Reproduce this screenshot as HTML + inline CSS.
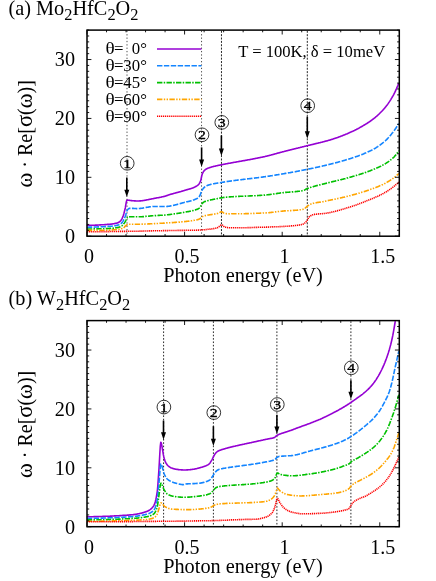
<!DOCTYPE html>
<html>
<head>
<meta charset="utf-8">
<title>Optical conductivity</title>
<style>
html, body { margin: 0; padding: 0; background: #ffffff; }
body { width: 436px; height: 581px; overflow: hidden; font-family: "Liberation Serif", serif; }
svg { display: block; will-change: transform; opacity: 0.999; }
svg text { font-family: "Liberation Serif", serif; fill: #000; }
</style>
</head>
<body>
<svg width="436" height="581" viewBox="0 0 436 581">
<rect x="0" y="0" width="436" height="581" fill="#ffffff"/>
<line x1="127.00" y1="30.8" x2="127.00" y2="236.2" stroke="#000" stroke-width="1" stroke-dasharray="1.3 2.06" opacity="0.7"/>
<line x1="201.55" y1="30.8" x2="201.55" y2="236.2" stroke="#000" stroke-width="1" stroke-dasharray="1.3 2.06" opacity="0.7"/>
<line x1="221.46" y1="30.8" x2="221.46" y2="236.2" stroke="#000" stroke-width="1" stroke-dasharray="2 1.36" opacity="0.85"/>
<line x1="307.30" y1="30.8" x2="307.30" y2="236.2" stroke="#000" stroke-width="1" stroke-dasharray="2 1.36" opacity="0.85"/>
<path d="M86.8,225.3 L87.3,225.3 L87.8,225.3 L88.3,225.3 L88.8,225.3 L89.3,225.3 L89.8,225.3 L90.3,225.3 L90.8,225.3 L91.3,225.3 L91.8,225.3 L92.3,225.2 L92.8,225.2 L93.3,225.2 L93.8,225.2 L94.3,225.2 L94.8,225.2 L95.3,225.1 L95.8,225.1 L96.3,225.1 L96.8,225.1 L97.3,225.1 L97.8,225.0 L98.3,225.0 L98.8,225.0 L99.3,225.0 L99.8,224.9 L100.3,224.9 L100.8,224.9 L101.3,224.8 L101.8,224.8 L102.3,224.8 L102.8,224.8 L103.3,224.7 L103.8,224.7 L104.3,224.7 L104.8,224.6 L105.3,224.6 L105.8,224.6 L106.3,224.5 L106.8,224.5 L107.3,224.4 L107.8,224.4 L108.3,224.4 L108.8,224.3 L109.3,224.3 L109.8,224.2 L110.3,224.2 L110.8,224.1 L111.3,224.1 L111.8,224.0 L112.3,224.0 L112.8,223.9 L113.3,223.8 L113.8,223.7 L114.3,223.6 L114.8,223.5 L115.3,223.4 L115.8,223.3 L116.3,223.2 L116.8,223.1 L117.3,223.0 L117.8,222.8 L118.3,222.6 L118.8,222.3 L119.3,222.0 L119.8,221.6 L120.3,221.2 L120.8,220.7 L121.3,219.9 L121.8,219.1 L122.3,218.0 L122.8,216.9 L123.3,215.5 L123.8,213.9 L124.3,212.0 L124.8,210.0 L125.3,207.9 L125.8,204.9 L126.3,201.9 L126.8,200.2 L127.3,200.1 L127.8,200.1 L128.3,200.2 L128.8,200.3 L129.3,200.3 L129.8,200.4 L130.3,200.5 L130.8,200.5 L131.3,200.6 L131.8,200.6 L132.3,200.7 L132.8,200.7 L133.3,200.8 L133.8,200.8 L134.3,200.9 L134.8,200.9 L135.3,200.9 L135.8,201.0 L136.3,201.0 L136.8,201.0 L137.3,201.0 L137.8,201.0 L138.3,201.0 L138.8,201.0 L139.3,201.0 L139.8,200.9 L140.3,200.9 L140.8,200.9 L141.3,200.8 L141.8,200.7 L142.3,200.7 L142.8,200.6 L143.3,200.5 L143.8,200.5 L144.3,200.4 L144.8,200.3 L145.3,200.2 L145.8,200.1 L146.3,200.0 L146.8,199.9 L147.3,199.8 L147.8,199.7 L148.3,199.6 L148.8,199.5 L149.3,199.4 L149.8,199.3 L150.3,199.2 L150.8,199.1 L151.3,199.0 L151.8,198.9 L152.3,198.8 L152.8,198.7 L153.3,198.6 L153.8,198.5 L154.3,198.4 L154.8,198.3 L155.3,198.2 L155.8,198.1 L156.3,198.0 L156.8,197.9 L157.3,197.8 L157.8,197.8 L158.3,197.7 L158.8,197.6 L159.3,197.5 L159.8,197.4 L160.3,197.3 L160.8,197.2 L161.3,197.1 L161.8,196.9 L162.3,196.8 L162.8,196.7 L163.3,196.6 L163.8,196.5 L164.3,196.4 L164.8,196.2 L165.3,196.1 L165.8,196.0 L166.3,195.8 L166.8,195.6 L167.3,195.5 L167.8,195.3 L168.3,195.1 L168.8,194.9 L169.3,194.8 L169.8,194.6 L170.3,194.4 L170.8,194.3 L171.3,194.1 L171.8,194.0 L172.3,193.9 L172.8,193.7 L173.3,193.6 L173.8,193.4 L174.3,193.3 L174.8,193.2 L175.3,193.0 L175.8,192.9 L176.3,192.8 L176.8,192.6 L177.3,192.5 L177.8,192.4 L178.3,192.3 L178.8,192.1 L179.3,192.0 L179.8,191.8 L180.3,191.7 L180.8,191.6 L181.3,191.4 L181.8,191.3 L182.3,191.1 L182.8,191.0 L183.3,190.8 L183.8,190.7 L184.3,190.5 L184.8,190.3 L185.3,190.2 L185.8,190.0 L186.3,189.9 L186.8,189.8 L187.3,189.6 L187.8,189.5 L188.3,189.3 L188.8,189.2 L189.3,189.0 L189.8,188.9 L190.3,188.7 L190.8,188.6 L191.3,188.4 L191.8,188.2 L192.3,188.1 L192.8,187.9 L193.3,187.7 L193.8,187.5 L194.3,187.2 L194.8,187.0 L195.3,186.8 L195.8,186.5 L196.3,186.2 L196.8,185.9 L197.3,185.6 L197.8,185.2 L198.3,184.8 L198.8,184.2 L199.3,183.5 L199.8,182.7 L200.3,181.7 L200.8,180.4 L201.3,178.0 L201.8,175.5 L202.3,173.9 L202.8,172.8 L203.3,171.9 L203.8,171.1 L204.3,170.6 L204.8,170.1 L205.3,169.7 L205.8,169.3 L206.3,169.0 L206.8,168.7 L207.3,168.5 L207.8,168.3 L208.3,168.1 L208.8,167.9 L209.3,167.7 L209.8,167.5 L210.3,167.4 L210.8,167.2 L211.3,167.1 L211.8,166.9 L212.3,166.8 L212.8,166.7 L213.3,166.5 L213.8,166.4 L214.3,166.3 L214.8,166.2 L215.3,166.1 L215.8,166.0 L216.3,165.8 L216.8,165.7 L217.3,165.6 L217.8,165.5 L218.3,165.4 L218.8,165.3 L219.3,165.2 L219.8,165.1 L220.3,165.0 L220.8,164.9 L221.3,164.8 L221.8,164.7 L222.3,164.6 L222.8,164.5 L223.3,164.4 L223.8,164.3 L224.3,164.2 L224.8,164.1 L225.3,164.0 L225.8,163.9 L226.3,163.8 L226.8,163.7 L227.3,163.6 L227.8,163.5 L228.3,163.4 L228.8,163.3 L229.3,163.3 L229.8,163.2 L230.3,163.1 L230.8,163.0 L231.3,162.9 L231.8,162.8 L232.3,162.7 L232.8,162.6 L233.3,162.5 L233.8,162.4 L234.3,162.3 L234.8,162.2 L235.3,162.2 L235.8,162.1 L236.3,162.0 L236.8,161.9 L237.3,161.8 L237.8,161.7 L238.3,161.6 L238.8,161.5 L239.3,161.4 L239.8,161.4 L240.3,161.3 L240.8,161.2 L241.3,161.1 L241.8,161.0 L242.3,160.9 L242.8,160.8 L243.3,160.7 L243.8,160.6 L244.3,160.6 L244.8,160.5 L245.3,160.4 L245.8,160.3 L246.3,160.2 L246.8,160.1 L247.3,160.0 L247.8,159.9 L248.3,159.8 L248.8,159.8 L249.3,159.7 L249.8,159.6 L250.3,159.5 L250.8,159.4 L251.3,159.3 L251.8,159.2 L252.3,159.1 L252.8,159.0 L253.3,158.9 L253.8,158.8 L254.3,158.7 L254.8,158.6 L255.3,158.5 L255.8,158.4 L256.3,158.3 L256.8,158.2 L257.3,158.1 L257.8,158.0 L258.3,157.9 L258.8,157.8 L259.3,157.7 L259.8,157.6 L260.3,157.5 L260.8,157.4 L261.3,157.3 L261.8,157.2 L262.3,157.1 L262.8,157.0 L263.3,156.9 L263.8,156.8 L264.3,156.7 L264.8,156.6 L265.3,156.4 L265.8,156.3 L266.3,156.2 L266.8,156.1 L267.3,156.0 L267.8,155.8 L268.3,155.7 L268.8,155.6 L269.3,155.5 L269.8,155.3 L270.3,155.2 L270.8,155.1 L271.3,154.9 L271.8,154.8 L272.3,154.7 L272.8,154.5 L273.3,154.4 L273.8,154.2 L274.3,154.1 L274.8,154.0 L275.3,153.8 L275.8,153.7 L276.3,153.6 L276.8,153.4 L277.3,153.3 L277.8,153.1 L278.3,153.0 L278.8,152.9 L279.3,152.7 L279.8,152.6 L280.3,152.5 L280.8,152.3 L281.3,152.2 L281.8,152.1 L282.3,151.9 L282.8,151.8 L283.3,151.7 L283.8,151.6 L284.3,151.4 L284.8,151.3 L285.3,151.2 L285.8,151.0 L286.3,150.9 L286.8,150.8 L287.3,150.7 L287.8,150.5 L288.3,150.4 L288.8,150.3 L289.3,150.2 L289.8,150.0 L290.3,149.9 L290.8,149.8 L291.3,149.7 L291.8,149.5 L292.3,149.4 L292.8,149.3 L293.3,149.2 L293.8,149.0 L294.3,148.9 L294.8,148.8 L295.3,148.7 L295.8,148.5 L296.3,148.4 L296.8,148.3 L297.3,148.2 L297.8,148.1 L298.3,147.9 L298.8,147.8 L299.3,147.7 L299.8,147.6 L300.3,147.4 L300.8,147.3 L301.3,147.2 L301.8,147.1 L302.3,146.9 L302.8,146.8 L303.3,146.7 L303.8,146.6 L304.3,146.4 L304.8,146.3 L305.3,146.2 L305.8,146.1 L306.3,145.9 L306.8,145.8 L307.3,145.7 L307.8,145.6 L308.3,145.4 L308.8,145.3 L309.3,145.2 L309.8,145.1 L310.3,145.0 L310.8,144.8 L311.3,144.7 L311.8,144.6 L312.3,144.5 L312.8,144.4 L313.3,144.2 L313.8,144.1 L314.3,144.0 L314.8,143.9 L315.3,143.8 L315.8,143.6 L316.3,143.5 L316.8,143.4 L317.3,143.3 L317.8,143.2 L318.3,143.0 L318.8,142.9 L319.3,142.8 L319.8,142.7 L320.3,142.6 L320.8,142.4 L321.3,142.3 L321.8,142.2 L322.3,142.1 L322.8,141.9 L323.3,141.8 L323.8,141.7 L324.3,141.5 L324.8,141.4 L325.3,141.3 L325.8,141.1 L326.3,141.0 L326.8,140.9 L327.3,140.7 L327.8,140.6 L328.3,140.4 L328.8,140.3 L329.3,140.2 L329.8,140.0 L330.3,139.9 L330.8,139.7 L331.3,139.5 L331.8,139.4 L332.3,139.2 L332.8,139.1 L333.3,138.9 L333.8,138.8 L334.3,138.6 L334.8,138.4 L335.3,138.3 L335.8,138.1 L336.3,137.9 L336.8,137.7 L337.3,137.6 L337.8,137.4 L338.3,137.2 L338.8,137.0 L339.3,136.8 L339.8,136.7 L340.3,136.5 L340.8,136.3 L341.3,136.1 L341.8,135.9 L342.3,135.7 L342.8,135.5 L343.3,135.3 L343.8,135.1 L344.3,134.9 L344.8,134.7 L345.3,134.5 L345.8,134.3 L346.3,134.1 L346.8,133.9 L347.3,133.7 L347.8,133.4 L348.3,133.2 L348.8,133.0 L349.3,132.8 L349.8,132.6 L350.3,132.3 L350.8,132.1 L351.3,131.9 L351.8,131.6 L352.3,131.4 L352.8,131.2 L353.3,130.9 L353.8,130.7 L354.3,130.5 L354.8,130.2 L355.3,130.0 L355.8,129.7 L356.3,129.5 L356.8,129.2 L357.3,128.9 L357.8,128.7 L358.3,128.4 L358.8,128.2 L359.3,127.9 L359.8,127.6 L360.3,127.3 L360.8,127.1 L361.3,126.8 L361.8,126.5 L362.3,126.2 L362.8,125.9 L363.3,125.6 L363.8,125.3 L364.3,125.0 L364.8,124.7 L365.3,124.4 L365.8,124.1 L366.3,123.8 L366.8,123.5 L367.3,123.2 L367.8,122.8 L368.3,122.5 L368.8,122.2 L369.3,121.8 L369.8,121.5 L370.3,121.2 L370.8,120.8 L371.3,120.5 L371.8,120.1 L372.3,119.7 L372.8,119.3 L373.3,119.0 L373.8,118.6 L374.3,118.2 L374.8,117.8 L375.3,117.4 L375.8,116.9 L376.3,116.5 L376.8,116.1 L377.3,115.6 L377.8,115.2 L378.3,114.7 L378.8,114.2 L379.3,113.8 L379.8,113.3 L380.3,112.8 L380.8,112.3 L381.3,111.8 L381.8,111.3 L382.3,110.7 L382.8,110.2 L383.3,109.6 L383.8,109.1 L384.3,108.5 L384.8,107.9 L385.3,107.3 L385.8,106.7 L386.3,106.1 L386.8,105.4 L387.3,104.8 L387.8,104.1 L388.3,103.4 L388.8,102.6 L389.3,101.9 L389.8,101.1 L390.3,100.4 L390.8,99.6 L391.3,98.7 L391.8,97.9 L392.3,97.0 L392.8,96.2 L393.3,95.3 L393.8,94.4 L394.3,93.4 L394.8,92.4 L395.3,91.3 L395.8,90.2 L396.3,89.1 L396.8,87.9 L397.3,86.7 L397.8,85.5 L398.3,84.2 L398.8,83.0" fill="none" stroke="#9400d3" stroke-width="1.6" stroke-linejoin="round"/>
<path d="M86.8,227.2 L87.3,227.2 L87.8,227.2 L88.3,227.2 L88.8,227.1 L89.3,227.1 L89.8,227.1 L90.3,227.1 L90.8,227.1 L91.3,227.1 L91.8,227.1 L92.3,227.1 L92.8,227.1 L93.3,227.1 L93.8,227.1 L94.3,227.1 L94.8,227.0 L95.3,227.0 L95.8,227.0 L96.3,227.0 L96.8,227.0 L97.3,227.0 L97.8,226.9 L98.3,226.9 L98.8,226.9 L99.3,226.9 L99.8,226.9 L100.3,226.8 L100.8,226.8 L101.3,226.8 L101.8,226.8 L102.3,226.8 L102.8,226.7 L103.3,226.7 L103.8,226.7 L104.3,226.7 L104.8,226.6 L105.3,226.6 L105.8,226.6 L106.3,226.6 L106.8,226.5 L107.3,226.5 L107.8,226.5 L108.3,226.4 L108.8,226.4 L109.3,226.4 L109.8,226.3 L110.3,226.3 L110.8,226.3 L111.3,226.2 L111.8,226.2 L112.3,226.1 L112.8,226.0 L113.3,226.0 L113.8,225.9 L114.3,225.8 L114.8,225.7 L115.3,225.7 L115.8,225.6 L116.3,225.5 L116.8,225.4 L117.3,225.3 L117.8,225.1 L118.3,225.0 L118.8,224.8 L119.3,224.5 L119.8,224.3 L120.3,224.0 L120.8,223.7 L121.3,223.3 L121.8,222.9 L122.3,222.3 L122.8,221.6 L123.3,220.7 L123.8,219.7 L124.3,218.7 L124.8,217.5 L125.3,216.3 L125.8,214.7 L126.3,212.9 L126.8,211.2 L127.3,210.1 L127.8,209.5 L128.3,209.0 L128.8,208.6 L129.3,208.4 L129.8,208.3 L130.3,208.4 L130.8,208.4 L131.3,208.4 L131.8,208.4 L132.3,208.4 L132.8,208.4 L133.3,208.4 L133.8,208.5 L134.3,208.5 L134.8,208.5 L135.3,208.5 L135.8,208.5 L136.3,208.6 L136.8,208.6 L137.3,208.6 L137.8,208.6 L138.3,208.6 L138.8,208.6 L139.3,208.5 L139.8,208.5 L140.3,208.4 L140.8,208.4 L141.3,208.3 L141.8,208.2 L142.3,208.2 L142.8,208.1 L143.3,208.0 L143.8,207.9 L144.3,207.8 L144.8,207.7 L145.3,207.6 L145.8,207.5 L146.3,207.4 L146.8,207.3 L147.3,207.2 L147.8,207.2 L148.3,207.1 L148.8,207.0 L149.3,206.9 L149.8,206.8 L150.3,206.8 L150.8,206.7 L151.3,206.6 L151.8,206.6 L152.3,206.6 L152.8,206.5 L153.3,206.5 L153.8,206.5 L154.3,206.5 L154.8,206.5 L155.3,206.5 L155.8,206.5 L156.3,206.5 L156.8,206.5 L157.3,206.5 L157.8,206.5 L158.3,206.5 L158.8,206.5 L159.3,206.5 L159.8,206.5 L160.3,206.5 L160.8,206.5 L161.3,206.5 L161.8,206.5 L162.3,206.5 L162.8,206.5 L163.3,206.5 L163.8,206.5 L164.3,206.5 L164.8,206.5 L165.3,206.5 L165.8,206.5 L166.3,206.5 L166.8,206.5 L167.3,206.4 L167.8,206.4 L168.3,206.3 L168.8,206.3 L169.3,206.2 L169.8,206.1 L170.3,206.0 L170.8,205.9 L171.3,205.8 L171.8,205.7 L172.3,205.6 L172.8,205.5 L173.3,205.4 L173.8,205.3 L174.3,205.2 L174.8,205.0 L175.3,204.9 L175.8,204.8 L176.3,204.7 L176.8,204.5 L177.3,204.4 L177.8,204.2 L178.3,204.1 L178.8,204.0 L179.3,203.8 L179.8,203.7 L180.3,203.5 L180.8,203.4 L181.3,203.2 L181.8,203.1 L182.3,203.0 L182.8,202.8 L183.3,202.7 L183.8,202.6 L184.3,202.4 L184.8,202.3 L185.3,202.2 L185.8,202.1 L186.3,201.9 L186.8,201.8 L187.3,201.7 L187.8,201.6 L188.3,201.5 L188.8,201.4 L189.3,201.2 L189.8,201.1 L190.3,201.0 L190.8,200.9 L191.3,200.7 L191.8,200.6 L192.3,200.4 L192.8,200.3 L193.3,200.1 L193.8,199.9 L194.3,199.7 L194.8,199.5 L195.3,199.3 L195.8,199.1 L196.3,198.9 L196.8,198.6 L197.3,198.4 L197.8,198.0 L198.3,197.6 L198.8,197.1 L199.3,196.5 L199.8,195.8 L200.3,194.7 L200.8,193.2 L201.3,191.8 L201.8,190.7 L202.3,189.8 L202.8,189.1 L203.3,188.4 L203.8,187.9 L204.3,187.4 L204.8,186.9 L205.3,186.5 L205.8,186.1 L206.3,185.9 L206.8,185.7 L207.3,185.5 L207.8,185.3 L208.3,185.1 L208.8,185.0 L209.3,184.8 L209.8,184.7 L210.3,184.5 L210.8,184.4 L211.3,184.3 L211.8,184.2 L212.3,184.0 L212.8,183.9 L213.3,183.8 L213.8,183.7 L214.3,183.6 L214.8,183.5 L215.3,183.5 L215.8,183.4 L216.3,183.3 L216.8,183.2 L217.3,183.1 L217.8,183.0 L218.3,183.0 L218.8,182.9 L219.3,182.8 L219.8,182.7 L220.3,182.7 L220.8,182.6 L221.3,182.5 L221.8,182.4 L222.3,182.3 L222.8,182.2 L223.3,182.1 L223.8,182.1 L224.3,182.0 L224.8,181.9 L225.3,181.8 L225.8,181.7 L226.3,181.7 L226.8,181.6 L227.3,181.5 L227.8,181.4 L228.3,181.4 L228.8,181.3 L229.3,181.2 L229.8,181.1 L230.3,181.1 L230.8,181.0 L231.3,180.9 L231.8,180.9 L232.3,180.8 L232.8,180.7 L233.3,180.7 L233.8,180.6 L234.3,180.5 L234.8,180.5 L235.3,180.4 L235.8,180.3 L236.3,180.3 L236.8,180.2 L237.3,180.1 L237.8,180.1 L238.3,180.0 L238.8,180.0 L239.3,179.9 L239.8,179.8 L240.3,179.8 L240.8,179.7 L241.3,179.7 L241.8,179.6 L242.3,179.5 L242.8,179.5 L243.3,179.4 L243.8,179.4 L244.3,179.3 L244.8,179.2 L245.3,179.2 L245.8,179.1 L246.3,179.1 L246.8,179.0 L247.3,178.9 L247.8,178.9 L248.3,178.8 L248.8,178.8 L249.3,178.7 L249.8,178.6 L250.3,178.6 L250.8,178.5 L251.3,178.5 L251.8,178.4 L252.3,178.4 L252.8,178.3 L253.3,178.2 L253.8,178.2 L254.3,178.1 L254.8,178.0 L255.3,178.0 L255.8,177.9 L256.3,177.9 L256.8,177.8 L257.3,177.7 L257.8,177.7 L258.3,177.6 L258.8,177.5 L259.3,177.5 L259.8,177.4 L260.3,177.3 L260.8,177.3 L261.3,177.2 L261.8,177.1 L262.3,177.1 L262.8,177.0 L263.3,176.9 L263.8,176.9 L264.3,176.8 L264.8,176.7 L265.3,176.6 L265.8,176.6 L266.3,176.5 L266.8,176.4 L267.3,176.4 L267.8,176.3 L268.3,176.2 L268.8,176.1 L269.3,176.1 L269.8,176.0 L270.3,175.9 L270.8,175.8 L271.3,175.7 L271.8,175.7 L272.3,175.6 L272.8,175.5 L273.3,175.4 L273.8,175.4 L274.3,175.3 L274.8,175.2 L275.3,175.1 L275.8,175.0 L276.3,174.9 L276.8,174.9 L277.3,174.8 L277.8,174.7 L278.3,174.6 L278.8,174.5 L279.3,174.5 L279.8,174.4 L280.3,174.3 L280.8,174.2 L281.3,174.1 L281.8,174.0 L282.3,174.0 L282.8,173.9 L283.3,173.8 L283.8,173.7 L284.3,173.6 L284.8,173.5 L285.3,173.4 L285.8,173.4 L286.3,173.3 L286.8,173.2 L287.3,173.1 L287.8,173.0 L288.3,172.9 L288.8,172.8 L289.3,172.7 L289.8,172.7 L290.3,172.6 L290.8,172.5 L291.3,172.4 L291.8,172.3 L292.3,172.2 L292.8,172.1 L293.3,172.0 L293.8,171.9 L294.3,171.8 L294.8,171.8 L295.3,171.7 L295.8,171.6 L296.3,171.5 L296.8,171.4 L297.3,171.3 L297.8,171.2 L298.3,171.1 L298.8,171.0 L299.3,170.9 L299.8,170.8 L300.3,170.7 L300.8,170.6 L301.3,170.5 L301.8,170.4 L302.3,170.3 L302.8,170.2 L303.3,170.1 L303.8,170.0 L304.3,169.9 L304.8,169.8 L305.3,169.7 L305.8,169.6 L306.3,169.5 L306.8,169.4 L307.3,169.3 L307.8,169.2 L308.3,169.1 L308.8,169.0 L309.3,168.9 L309.8,168.8 L310.3,168.7 L310.8,168.6 L311.3,168.5 L311.8,168.4 L312.3,168.3 L312.8,168.2 L313.3,168.1 L313.8,167.9 L314.3,167.8 L314.8,167.7 L315.3,167.6 L315.8,167.5 L316.3,167.4 L316.8,167.3 L317.3,167.2 L317.8,167.1 L318.3,167.0 L318.8,166.9 L319.3,166.7 L319.8,166.6 L320.3,166.5 L320.8,166.4 L321.3,166.3 L321.8,166.2 L322.3,166.1 L322.8,165.9 L323.3,165.8 L323.8,165.7 L324.3,165.6 L324.8,165.5 L325.3,165.4 L325.8,165.2 L326.3,165.1 L326.8,165.0 L327.3,164.9 L327.8,164.8 L328.3,164.6 L328.8,164.5 L329.3,164.4 L329.8,164.3 L330.3,164.2 L330.8,164.0 L331.3,163.9 L331.8,163.8 L332.3,163.7 L332.8,163.5 L333.3,163.4 L333.8,163.3 L334.3,163.1 L334.8,163.0 L335.3,162.9 L335.8,162.8 L336.3,162.6 L336.8,162.5 L337.3,162.4 L337.8,162.2 L338.3,162.1 L338.8,161.9 L339.3,161.8 L339.8,161.7 L340.3,161.5 L340.8,161.4 L341.3,161.2 L341.8,161.1 L342.3,161.0 L342.8,160.8 L343.3,160.7 L343.8,160.5 L344.3,160.4 L344.8,160.2 L345.3,160.1 L345.8,159.9 L346.3,159.8 L346.8,159.6 L347.3,159.5 L347.8,159.3 L348.3,159.2 L348.8,159.0 L349.3,158.9 L349.8,158.7 L350.3,158.6 L350.8,158.4 L351.3,158.2 L351.8,158.1 L352.3,157.9 L352.8,157.8 L353.3,157.6 L353.8,157.4 L354.3,157.3 L354.8,157.1 L355.3,156.9 L355.8,156.8 L356.3,156.6 L356.8,156.4 L357.3,156.2 L357.8,156.1 L358.3,155.9 L358.8,155.7 L359.3,155.5 L359.8,155.3 L360.3,155.1 L360.8,154.9 L361.3,154.8 L361.8,154.6 L362.3,154.4 L362.8,154.2 L363.3,154.0 L363.8,153.8 L364.3,153.5 L364.8,153.3 L365.3,153.1 L365.8,152.9 L366.3,152.7 L366.8,152.5 L367.3,152.3 L367.8,152.0 L368.3,151.8 L368.8,151.6 L369.3,151.3 L369.8,151.1 L370.3,150.9 L370.8,150.6 L371.3,150.4 L371.8,150.1 L372.3,149.9 L372.8,149.6 L373.3,149.3 L373.8,149.0 L374.3,148.7 L374.8,148.5 L375.3,148.2 L375.8,147.9 L376.3,147.5 L376.8,147.2 L377.3,146.9 L377.8,146.6 L378.3,146.2 L378.8,145.9 L379.3,145.5 L379.8,145.2 L380.3,144.8 L380.8,144.5 L381.3,144.1 L381.8,143.7 L382.3,143.3 L382.8,142.9 L383.3,142.5 L383.8,142.1 L384.3,141.7 L384.8,141.2 L385.3,140.8 L385.8,140.3 L386.3,139.9 L386.8,139.4 L387.3,138.9 L387.8,138.3 L388.3,137.8 L388.8,137.2 L389.3,136.6 L389.8,136.1 L390.3,135.5 L390.8,134.9 L391.3,134.3 L391.8,133.6 L392.3,133.0 L392.8,132.4 L393.3,131.7 L393.8,131.1 L394.3,130.4 L394.8,129.7 L395.3,129.0 L395.8,128.3 L396.3,127.5 L396.8,126.8 L397.3,126.0 L397.8,125.2 L398.3,124.4 L398.8,123.6" fill="none" stroke="#1485ff" stroke-width="1.6" stroke-dasharray="5.4 1.5" stroke-linejoin="round"/>
<path d="M86.8,229.0 L87.3,229.0 L87.8,229.0 L88.3,229.0 L88.8,229.0 L89.3,229.0 L89.8,229.0 L90.3,229.0 L90.8,229.0 L91.3,229.0 L91.8,229.0 L92.3,229.0 L92.8,228.9 L93.3,228.9 L93.8,228.9 L94.3,228.9 L94.8,228.9 L95.3,228.9 L95.8,228.9 L96.3,228.9 L96.8,228.9 L97.3,228.9 L97.8,228.9 L98.3,228.8 L98.8,228.8 L99.3,228.8 L99.8,228.8 L100.3,228.8 L100.8,228.8 L101.3,228.8 L101.8,228.7 L102.3,228.7 L102.8,228.7 L103.3,228.7 L103.8,228.7 L104.3,228.7 L104.8,228.6 L105.3,228.6 L105.8,228.6 L106.3,228.6 L106.8,228.6 L107.3,228.6 L107.8,228.5 L108.3,228.5 L108.8,228.5 L109.3,228.5 L109.8,228.4 L110.3,228.4 L110.8,228.4 L111.3,228.3 L111.8,228.3 L112.3,228.2 L112.8,228.2 L113.3,228.1 L113.8,228.1 L114.3,228.0 L114.8,228.0 L115.3,227.9 L115.8,227.8 L116.3,227.7 L116.8,227.7 L117.3,227.6 L117.8,227.5 L118.3,227.4 L118.8,227.2 L119.3,227.1 L119.8,226.9 L120.3,226.7 L120.8,226.5 L121.3,226.2 L121.8,225.9 L122.3,225.5 L122.8,225.0 L123.3,224.5 L123.8,223.8 L124.3,223.1 L124.8,222.3 L125.3,221.6 L125.8,220.5 L126.3,219.3 L126.8,218.3 L127.3,217.6 L127.8,217.3 L128.3,217.1 L128.8,217.0 L129.3,216.9 L129.8,216.8 L130.3,216.8 L130.8,216.8 L131.3,216.8 L131.8,216.8 L132.3,216.8 L132.8,216.8 L133.3,216.8 L133.8,216.8 L134.3,216.8 L134.8,216.8 L135.3,216.8 L135.8,216.8 L136.3,216.8 L136.8,216.8 L137.3,216.8 L137.8,216.8 L138.3,216.8 L138.8,216.8 L139.3,216.8 L139.8,216.8 L140.3,216.8 L140.8,216.8 L141.3,216.7 L141.8,216.7 L142.3,216.7 L142.8,216.6 L143.3,216.6 L143.8,216.6 L144.3,216.5 L144.8,216.5 L145.3,216.4 L145.8,216.4 L146.3,216.3 L146.8,216.3 L147.3,216.2 L147.8,216.2 L148.3,216.2 L148.8,216.1 L149.3,216.1 L149.8,216.0 L150.3,216.0 L150.8,215.9 L151.3,215.9 L151.8,215.8 L152.3,215.8 L152.8,215.8 L153.3,215.7 L153.8,215.7 L154.3,215.7 L154.8,215.6 L155.3,215.6 L155.8,215.6 L156.3,215.5 L156.8,215.5 L157.3,215.5 L157.8,215.5 L158.3,215.4 L158.8,215.4 L159.3,215.4 L159.8,215.3 L160.3,215.3 L160.8,215.3 L161.3,215.3 L161.8,215.2 L162.3,215.2 L162.8,215.2 L163.3,215.1 L163.8,215.1 L164.3,215.1 L164.8,215.0 L165.3,215.0 L165.8,214.9 L166.3,214.9 L166.8,214.8 L167.3,214.8 L167.8,214.7 L168.3,214.7 L168.8,214.6 L169.3,214.6 L169.8,214.5 L170.3,214.5 L170.8,214.4 L171.3,214.3 L171.8,214.3 L172.3,214.2 L172.8,214.1 L173.3,214.1 L173.8,214.0 L174.3,213.9 L174.8,213.8 L175.3,213.8 L175.8,213.7 L176.3,213.6 L176.8,213.5 L177.3,213.5 L177.8,213.4 L178.3,213.3 L178.8,213.2 L179.3,213.1 L179.8,213.1 L180.3,213.0 L180.8,212.9 L181.3,212.8 L181.8,212.7 L182.3,212.6 L182.8,212.5 L183.3,212.5 L183.8,212.4 L184.3,212.3 L184.8,212.2 L185.3,212.1 L185.8,212.0 L186.3,211.9 L186.8,211.8 L187.3,211.7 L187.8,211.6 L188.3,211.6 L188.8,211.5 L189.3,211.4 L189.8,211.3 L190.3,211.2 L190.8,211.0 L191.3,210.9 L191.8,210.8 L192.3,210.7 L192.8,210.6 L193.3,210.5 L193.8,210.3 L194.3,210.2 L194.8,210.0 L195.3,209.9 L195.8,209.7 L196.3,209.5 L196.8,209.4 L197.3,209.2 L197.8,209.0 L198.3,208.7 L198.8,208.4 L199.3,208.1 L199.8,207.7 L200.3,207.0 L200.8,205.9 L201.3,204.8 L201.8,204.0 L202.3,203.4 L202.8,202.9 L203.3,202.4 L203.8,202.0 L204.3,201.8 L204.8,201.5 L205.3,201.4 L205.8,201.2 L206.3,201.1 L206.8,200.9 L207.3,200.8 L207.8,200.7 L208.3,200.5 L208.8,200.4 L209.3,200.3 L209.8,200.2 L210.3,200.0 L210.8,199.9 L211.3,199.8 L211.8,199.7 L212.3,199.6 L212.8,199.5 L213.3,199.4 L213.8,199.3 L214.3,199.2 L214.8,199.1 L215.3,199.0 L215.8,198.9 L216.3,198.8 L216.8,198.7 L217.3,198.6 L217.8,198.5 L218.3,198.4 L218.8,198.3 L219.3,198.2 L219.8,198.1 L220.3,198.0 L220.8,197.9 L221.3,197.9 L221.8,197.8 L222.3,197.7 L222.8,197.6 L223.3,197.5 L223.8,197.4 L224.3,197.4 L224.8,197.3 L225.3,197.3 L225.8,197.2 L226.3,197.2 L226.8,197.1 L227.3,197.1 L227.8,197.1 L228.3,197.0 L228.8,197.0 L229.3,196.9 L229.8,196.9 L230.3,196.9 L230.8,196.8 L231.3,196.8 L231.8,196.8 L232.3,196.7 L232.8,196.7 L233.3,196.7 L233.8,196.6 L234.3,196.6 L234.8,196.6 L235.3,196.6 L235.8,196.5 L236.3,196.5 L236.8,196.5 L237.3,196.5 L237.8,196.4 L238.3,196.4 L238.8,196.4 L239.3,196.4 L239.8,196.3 L240.3,196.3 L240.8,196.3 L241.3,196.3 L241.8,196.3 L242.3,196.2 L242.8,196.2 L243.3,196.2 L243.8,196.2 L244.3,196.2 L244.8,196.1 L245.3,196.1 L245.8,196.1 L246.3,196.1 L246.8,196.1 L247.3,196.0 L247.8,196.0 L248.3,196.0 L248.8,196.0 L249.3,196.0 L249.8,195.9 L250.3,195.9 L250.8,195.9 L251.3,195.9 L251.8,195.8 L252.3,195.8 L252.8,195.8 L253.3,195.8 L253.8,195.8 L254.3,195.7 L254.8,195.7 L255.3,195.7 L255.8,195.7 L256.3,195.6 L256.8,195.6 L257.3,195.6 L257.8,195.5 L258.3,195.5 L258.8,195.5 L259.3,195.5 L259.8,195.4 L260.3,195.4 L260.8,195.4 L261.3,195.3 L261.8,195.3 L262.3,195.3 L262.8,195.2 L263.3,195.2 L263.8,195.1 L264.3,195.1 L264.8,195.1 L265.3,195.0 L265.8,195.0 L266.3,194.9 L266.8,194.9 L267.3,194.8 L267.8,194.8 L268.3,194.7 L268.8,194.6 L269.3,194.6 L269.8,194.5 L270.3,194.5 L270.8,194.4 L271.3,194.3 L271.8,194.2 L272.3,194.2 L272.8,194.1 L273.3,194.0 L273.8,194.0 L274.3,193.9 L274.8,193.8 L275.3,193.7 L275.8,193.7 L276.3,193.6 L276.8,193.5 L277.3,193.4 L277.8,193.4 L278.3,193.3 L278.8,193.2 L279.3,193.2 L279.8,193.1 L280.3,193.0 L280.8,192.9 L281.3,192.9 L281.8,192.8 L282.3,192.8 L282.8,192.7 L283.3,192.6 L283.8,192.6 L284.3,192.5 L284.8,192.5 L285.3,192.4 L285.8,192.4 L286.3,192.4 L286.8,192.3 L287.3,192.3 L287.8,192.2 L288.3,192.2 L288.8,192.2 L289.3,192.1 L289.8,192.1 L290.3,192.0 L290.8,192.0 L291.3,192.0 L291.8,191.9 L292.3,191.9 L292.8,191.9 L293.3,191.8 L293.8,191.8 L294.3,191.7 L294.8,191.7 L295.3,191.6 L295.8,191.6 L296.3,191.5 L296.8,191.5 L297.3,191.4 L297.8,191.4 L298.3,191.3 L298.8,191.2 L299.3,191.2 L299.8,191.1 L300.3,191.0 L300.8,190.9 L301.3,190.9 L301.8,190.8 L302.3,190.7 L302.8,190.6 L303.3,190.5 L303.8,190.4 L304.3,190.2 L304.8,189.9 L305.3,189.6 L305.8,189.3 L306.3,189.0 L306.8,188.8 L307.3,188.6 L307.8,188.4 L308.3,188.2 L308.8,188.0 L309.3,187.8 L309.8,187.6 L310.3,187.5 L310.8,187.3 L311.3,187.2 L311.8,187.0 L312.3,186.9 L312.8,186.7 L313.3,186.6 L313.8,186.5 L314.3,186.3 L314.8,186.2 L315.3,186.0 L315.8,185.9 L316.3,185.8 L316.8,185.6 L317.3,185.5 L317.8,185.4 L318.3,185.3 L318.8,185.1 L319.3,185.0 L319.8,184.9 L320.3,184.8 L320.8,184.6 L321.3,184.5 L321.8,184.4 L322.3,184.3 L322.8,184.1 L323.3,184.0 L323.8,183.9 L324.3,183.7 L324.8,183.6 L325.3,183.5 L325.8,183.4 L326.3,183.2 L326.8,183.1 L327.3,183.0 L327.8,182.9 L328.3,182.7 L328.8,182.6 L329.3,182.5 L329.8,182.4 L330.3,182.2 L330.8,182.1 L331.3,182.0 L331.8,181.9 L332.3,181.8 L332.8,181.6 L333.3,181.5 L333.8,181.4 L334.3,181.3 L334.8,181.2 L335.3,181.0 L335.8,180.9 L336.3,180.8 L336.8,180.7 L337.3,180.6 L337.8,180.4 L338.3,180.3 L338.8,180.2 L339.3,180.1 L339.8,180.0 L340.3,179.8 L340.8,179.7 L341.3,179.6 L341.8,179.5 L342.3,179.3 L342.8,179.2 L343.3,179.1 L343.8,178.9 L344.3,178.8 L344.8,178.7 L345.3,178.6 L345.8,178.4 L346.3,178.3 L346.8,178.1 L347.3,178.0 L347.8,177.9 L348.3,177.7 L348.8,177.6 L349.3,177.5 L349.8,177.3 L350.3,177.2 L350.8,177.0 L351.3,176.9 L351.8,176.7 L352.3,176.6 L352.8,176.4 L353.3,176.3 L353.8,176.2 L354.3,176.0 L354.8,175.9 L355.3,175.7 L355.8,175.6 L356.3,175.4 L356.8,175.3 L357.3,175.1 L357.8,175.0 L358.3,174.8 L358.8,174.7 L359.3,174.5 L359.8,174.3 L360.3,174.2 L360.8,174.0 L361.3,173.9 L361.8,173.7 L362.3,173.5 L362.8,173.4 L363.3,173.2 L363.8,173.0 L364.3,172.9 L364.8,172.7 L365.3,172.5 L365.8,172.4 L366.3,172.2 L366.8,172.0 L367.3,171.8 L367.8,171.6 L368.3,171.5 L368.8,171.3 L369.3,171.1 L369.8,170.9 L370.3,170.7 L370.8,170.5 L371.3,170.3 L371.8,170.1 L372.3,169.9 L372.8,169.7 L373.3,169.5 L373.8,169.3 L374.3,169.1 L374.8,168.9 L375.3,168.7 L375.8,168.5 L376.3,168.3 L376.8,168.0 L377.3,167.8 L377.8,167.6 L378.3,167.4 L378.8,167.1 L379.3,166.9 L379.8,166.6 L380.3,166.4 L380.8,166.2 L381.3,165.9 L381.8,165.6 L382.3,165.4 L382.8,165.1 L383.3,164.8 L383.8,164.5 L384.3,164.3 L384.8,164.0 L385.3,163.7 L385.8,163.4 L386.3,163.0 L386.8,162.7 L387.3,162.4 L387.8,162.1 L388.3,161.7 L388.8,161.4 L389.3,161.0 L389.8,160.6 L390.3,160.2 L390.8,159.8 L391.3,159.4 L391.8,159.0 L392.3,158.6 L392.8,158.1 L393.3,157.7 L393.8,157.2 L394.3,156.7 L394.8,156.1 L395.3,155.5 L395.8,154.9 L396.3,154.3 L396.8,153.6 L397.3,152.9 L397.8,152.2 L398.3,151.5 L398.8,150.8" fill="none" stroke="#00c000" stroke-width="1.6" stroke-dasharray="5.4 1.3 1.5 1.3" stroke-linejoin="round"/>
<path d="M86.8,230.4 L87.3,230.4 L87.8,230.4 L88.3,230.4 L88.8,230.4 L89.3,230.4 L89.8,230.4 L90.3,230.4 L90.8,230.4 L91.3,230.4 L91.8,230.4 L92.3,230.4 L92.8,230.3 L93.3,230.3 L93.8,230.3 L94.3,230.3 L94.8,230.3 L95.3,230.3 L95.8,230.3 L96.3,230.3 L96.8,230.3 L97.3,230.3 L97.8,230.3 L98.3,230.3 L98.8,230.3 L99.3,230.3 L99.8,230.3 L100.3,230.3 L100.8,230.3 L101.3,230.3 L101.8,230.2 L102.3,230.2 L102.8,230.2 L103.3,230.2 L103.8,230.2 L104.3,230.2 L104.8,230.2 L105.3,230.2 L105.8,230.2 L106.3,230.2 L106.8,230.2 L107.3,230.2 L107.8,230.1 L108.3,230.1 L108.8,230.1 L109.3,230.1 L109.8,230.1 L110.3,230.0 L110.8,230.0 L111.3,230.0 L111.8,230.0 L112.3,229.9 L112.8,229.9 L113.3,229.8 L113.8,229.8 L114.3,229.7 L114.8,229.7 L115.3,229.6 L115.8,229.6 L116.3,229.5 L116.8,229.5 L117.3,229.4 L117.8,229.4 L118.3,229.3 L118.8,229.2 L119.3,229.2 L119.8,229.1 L120.3,229.0 L120.8,228.9 L121.3,228.7 L121.8,228.6 L122.3,228.5 L122.8,228.3 L123.3,228.1 L123.8,227.7 L124.3,227.2 L124.8,226.6 L125.3,226.1 L125.8,225.7 L126.3,225.3 L126.8,225.0 L127.3,224.6 L127.8,224.4 L128.3,224.2 L128.8,224.2 L129.3,224.2 L129.8,224.2 L130.3,224.2 L130.8,224.2 L131.3,224.2 L131.8,224.2 L132.3,224.2 L132.8,224.2 L133.3,224.2 L133.8,224.2 L134.3,224.2 L134.8,224.2 L135.3,224.2 L135.8,224.2 L136.3,224.2 L136.8,224.2 L137.3,224.2 L137.8,224.2 L138.3,224.2 L138.8,224.2 L139.3,224.2 L139.8,224.2 L140.3,224.2 L140.8,224.2 L141.3,224.1 L141.8,224.1 L142.3,224.1 L142.8,224.1 L143.3,224.1 L143.8,224.1 L144.3,224.1 L144.8,224.1 L145.3,224.0 L145.8,224.0 L146.3,224.0 L146.8,224.0 L147.3,224.0 L147.8,224.0 L148.3,223.9 L148.8,223.9 L149.3,223.9 L149.8,223.9 L150.3,223.8 L150.8,223.8 L151.3,223.8 L151.8,223.8 L152.3,223.8 L152.8,223.7 L153.3,223.7 L153.8,223.7 L154.3,223.6 L154.8,223.6 L155.3,223.6 L155.8,223.6 L156.3,223.5 L156.8,223.5 L157.3,223.5 L157.8,223.5 L158.3,223.4 L158.8,223.4 L159.3,223.4 L159.8,223.3 L160.3,223.3 L160.8,223.3 L161.3,223.2 L161.8,223.2 L162.3,223.2 L162.8,223.2 L163.3,223.1 L163.8,223.1 L164.3,223.1 L164.8,223.0 L165.3,223.0 L165.8,223.0 L166.3,222.9 L166.8,222.9 L167.3,222.9 L167.8,222.9 L168.3,222.8 L168.8,222.8 L169.3,222.8 L169.8,222.7 L170.3,222.7 L170.8,222.7 L171.3,222.7 L171.8,222.6 L172.3,222.6 L172.8,222.6 L173.3,222.5 L173.8,222.5 L174.3,222.5 L174.8,222.4 L175.3,222.4 L175.8,222.4 L176.3,222.3 L176.8,222.3 L177.3,222.3 L177.8,222.2 L178.3,222.2 L178.8,222.1 L179.3,222.1 L179.8,222.1 L180.3,222.0 L180.8,222.0 L181.3,221.9 L181.8,221.9 L182.3,221.8 L182.8,221.8 L183.3,221.7 L183.8,221.7 L184.3,221.6 L184.8,221.6 L185.3,221.5 L185.8,221.5 L186.3,221.4 L186.8,221.4 L187.3,221.3 L187.8,221.2 L188.3,221.2 L188.8,221.1 L189.3,221.1 L189.8,221.0 L190.3,220.9 L190.8,220.9 L191.3,220.8 L191.8,220.7 L192.3,220.6 L192.8,220.6 L193.3,220.5 L193.8,220.4 L194.3,220.3 L194.8,220.2 L195.3,220.1 L195.8,220.1 L196.3,220.0 L196.8,219.9 L197.3,219.8 L197.8,219.6 L198.3,219.5 L198.8,219.3 L199.3,219.1 L199.8,218.8 L200.3,218.6 L200.8,218.2 L201.3,217.8 L201.8,217.2 L202.3,216.7 L202.8,216.4 L203.3,216.2 L203.8,216.0 L204.3,215.9 L204.8,215.8 L205.3,215.6 L205.8,215.5 L206.3,215.4 L206.8,215.4 L207.3,215.2 L207.8,215.1 L208.3,215.0 L208.8,215.0 L209.3,214.9 L209.8,214.8 L210.3,214.7 L210.8,214.6 L211.3,214.6 L211.8,214.5 L212.3,214.4 L212.8,214.3 L213.3,214.3 L213.8,214.2 L214.3,214.1 L214.8,214.0 L215.3,213.9 L215.8,213.8 L216.3,213.7 L216.8,213.6 L217.3,213.5 L217.8,213.4 L218.3,213.2 L218.8,212.9 L219.3,212.7 L219.8,212.4 L220.3,212.1 L220.8,211.9 L221.3,211.8 L221.8,211.8 L222.3,212.0 L222.8,212.3 L223.3,212.7 L223.8,213.0 L224.3,213.2 L224.8,213.3 L225.3,213.4 L225.8,213.5 L226.3,213.6 L226.8,213.7 L227.3,213.7 L227.8,213.8 L228.3,213.8 L228.8,213.8 L229.3,213.9 L229.8,213.9 L230.3,213.9 L230.8,213.9 L231.3,213.8 L231.8,213.8 L232.3,213.8 L232.8,213.8 L233.3,213.8 L233.8,213.8 L234.3,213.8 L234.8,213.8 L235.3,213.8 L235.8,213.8 L236.3,213.8 L236.8,213.8 L237.3,213.8 L237.8,213.8 L238.3,213.8 L238.8,213.8 L239.3,213.8 L239.8,213.8 L240.3,213.7 L240.8,213.7 L241.3,213.7 L241.8,213.7 L242.3,213.7 L242.8,213.7 L243.3,213.7 L243.8,213.7 L244.3,213.7 L244.8,213.7 L245.3,213.6 L245.8,213.6 L246.3,213.6 L246.8,213.6 L247.3,213.6 L247.8,213.6 L248.3,213.6 L248.8,213.5 L249.3,213.5 L249.8,213.5 L250.3,213.5 L250.8,213.5 L251.3,213.5 L251.8,213.5 L252.3,213.4 L252.8,213.4 L253.3,213.4 L253.8,213.4 L254.3,213.4 L254.8,213.3 L255.3,213.3 L255.8,213.3 L256.3,213.3 L256.8,213.3 L257.3,213.3 L257.8,213.2 L258.3,213.2 L258.8,213.2 L259.3,213.2 L259.8,213.2 L260.3,213.1 L260.8,213.1 L261.3,213.1 L261.8,213.1 L262.3,213.1 L262.8,213.0 L263.3,213.0 L263.8,213.0 L264.3,213.0 L264.8,212.9 L265.3,212.9 L265.8,212.9 L266.3,212.9 L266.8,212.8 L267.3,212.8 L267.8,212.8 L268.3,212.7 L268.8,212.7 L269.3,212.6 L269.8,212.6 L270.3,212.5 L270.8,212.5 L271.3,212.4 L271.8,212.4 L272.3,212.3 L272.8,212.2 L273.3,212.2 L273.8,212.1 L274.3,212.1 L274.8,212.0 L275.3,211.9 L275.8,211.9 L276.3,211.8 L276.8,211.7 L277.3,211.7 L277.8,211.6 L278.3,211.5 L278.8,211.5 L279.3,211.4 L279.8,211.4 L280.3,211.3 L280.8,211.3 L281.3,211.2 L281.8,211.2 L282.3,211.1 L282.8,211.1 L283.3,211.0 L283.8,211.0 L284.3,210.9 L284.8,210.9 L285.3,210.9 L285.8,210.8 L286.3,210.8 L286.8,210.8 L287.3,210.7 L287.8,210.7 L288.3,210.7 L288.8,210.7 L289.3,210.6 L289.8,210.6 L290.3,210.6 L290.8,210.6 L291.3,210.5 L291.8,210.5 L292.3,210.5 L292.8,210.5 L293.3,210.4 L293.8,210.4 L294.3,210.4 L294.8,210.3 L295.3,210.3 L295.8,210.3 L296.3,210.2 L296.8,210.2 L297.3,210.1 L297.8,210.1 L298.3,210.0 L298.8,210.0 L299.3,209.9 L299.8,209.8 L300.3,209.8 L300.8,209.7 L301.3,209.6 L301.8,209.6 L302.3,209.5 L302.8,209.4 L303.3,209.3 L303.8,209.2 L304.3,208.9 L304.8,208.5 L305.3,208.0 L305.8,207.5 L306.3,207.1 L306.8,206.7 L307.3,206.3 L307.8,205.9 L308.3,205.5 L308.8,205.1 L309.3,204.7 L309.8,204.5 L310.3,204.2 L310.8,204.1 L311.3,203.9 L311.8,203.7 L312.3,203.6 L312.8,203.5 L313.3,203.3 L313.8,203.2 L314.3,203.1 L314.8,203.0 L315.3,202.9 L315.8,202.8 L316.3,202.7 L316.8,202.6 L317.3,202.5 L317.8,202.4 L318.3,202.4 L318.8,202.3 L319.3,202.2 L319.8,202.1 L320.3,202.1 L320.8,202.0 L321.3,201.9 L321.8,201.8 L322.3,201.7 L322.8,201.7 L323.3,201.6 L323.8,201.5 L324.3,201.4 L324.8,201.3 L325.3,201.2 L325.8,201.1 L326.3,201.0 L326.8,200.9 L327.3,200.7 L327.8,200.6 L328.3,200.5 L328.8,200.4 L329.3,200.3 L329.8,200.2 L330.3,200.1 L330.8,200.0 L331.3,199.9 L331.8,199.8 L332.3,199.7 L332.8,199.6 L333.3,199.5 L333.8,199.4 L334.3,199.3 L334.8,199.2 L335.3,199.1 L335.8,199.0 L336.3,198.9 L336.8,198.8 L337.3,198.7 L337.8,198.5 L338.3,198.4 L338.8,198.3 L339.3,198.2 L339.8,198.1 L340.3,198.0 L340.8,197.9 L341.3,197.8 L341.8,197.7 L342.3,197.5 L342.8,197.4 L343.3,197.3 L343.8,197.2 L344.3,197.1 L344.8,197.0 L345.3,196.8 L345.8,196.7 L346.3,196.6 L346.8,196.5 L347.3,196.3 L347.8,196.2 L348.3,196.1 L348.8,196.0 L349.3,195.8 L349.8,195.7 L350.3,195.6 L350.8,195.4 L351.3,195.3 L351.8,195.2 L352.3,195.0 L352.8,194.9 L353.3,194.8 L353.8,194.6 L354.3,194.5 L354.8,194.4 L355.3,194.2 L355.8,194.1 L356.3,193.9 L356.8,193.8 L357.3,193.6 L357.8,193.5 L358.3,193.4 L358.8,193.2 L359.3,193.1 L359.8,192.9 L360.3,192.8 L360.8,192.6 L361.3,192.5 L361.8,192.3 L362.3,192.1 L362.8,192.0 L363.3,191.8 L363.8,191.7 L364.3,191.5 L364.8,191.4 L365.3,191.2 L365.8,191.0 L366.3,190.9 L366.8,190.7 L367.3,190.5 L367.8,190.4 L368.3,190.2 L368.8,190.0 L369.3,189.8 L369.8,189.7 L370.3,189.5 L370.8,189.3 L371.3,189.1 L371.8,189.0 L372.3,188.8 L372.8,188.6 L373.3,188.4 L373.8,188.2 L374.3,188.0 L374.8,187.9 L375.3,187.7 L375.8,187.5 L376.3,187.3 L376.8,187.1 L377.3,186.9 L377.8,186.7 L378.3,186.5 L378.8,186.3 L379.3,186.0 L379.8,185.8 L380.3,185.6 L380.8,185.4 L381.3,185.2 L381.8,184.9 L382.3,184.7 L382.8,184.5 L383.3,184.2 L383.8,184.0 L384.3,183.7 L384.8,183.5 L385.3,183.2 L385.8,182.9 L386.3,182.7 L386.8,182.4 L387.3,182.1 L387.8,181.8 L388.3,181.5 L388.8,181.2 L389.3,180.9 L389.8,180.6 L390.3,180.3 L390.8,179.9 L391.3,179.6 L391.8,179.3 L392.3,178.9 L392.8,178.5 L393.3,178.2 L393.8,177.8 L394.3,177.4 L394.8,177.1 L395.3,176.6 L395.8,176.2 L396.3,175.8 L396.8,175.4 L397.3,174.9 L397.8,174.4 L398.3,174.0 L398.8,173.5" fill="none" stroke="#ffa500" stroke-width="1.6" stroke-dasharray="5.4 1.4 1.4 1.4 1.4 1.4" stroke-linejoin="round"/>
<path d="M86.8,231.7 L87.3,231.7 L87.8,231.7 L88.3,231.7 L88.8,231.7 L89.3,231.7 L89.8,231.7 L90.3,231.7 L90.8,231.7 L91.3,231.7 L91.8,231.7 L92.3,231.7 L92.8,231.7 L93.3,231.7 L93.8,231.7 L94.3,231.7 L94.8,231.7 L95.3,231.7 L95.8,231.7 L96.3,231.7 L96.8,231.7 L97.3,231.7 L97.8,231.7 L98.3,231.7 L98.8,231.7 L99.3,231.7 L99.8,231.7 L100.3,231.6 L100.8,231.6 L101.3,231.6 L101.8,231.6 L102.3,231.6 L102.8,231.6 L103.3,231.6 L103.8,231.6 L104.3,231.6 L104.8,231.6 L105.3,231.6 L105.8,231.6 L106.3,231.6 L106.8,231.6 L107.3,231.6 L107.8,231.6 L108.3,231.6 L108.8,231.6 L109.3,231.6 L109.8,231.6 L110.3,231.5 L110.8,231.5 L111.3,231.5 L111.8,231.5 L112.3,231.5 L112.8,231.5 L113.3,231.5 L113.8,231.5 L114.3,231.5 L114.8,231.5 L115.3,231.5 L115.8,231.5 L116.3,231.5 L116.8,231.5 L117.3,231.5 L117.8,231.5 L118.3,231.5 L118.8,231.4 L119.3,231.4 L119.8,231.4 L120.3,231.4 L120.8,231.4 L121.3,231.4 L121.8,231.4 L122.3,231.4 L122.8,231.4 L123.3,231.4 L123.8,231.4 L124.3,231.4 L124.8,231.4 L125.3,231.4 L125.8,231.4 L126.3,231.3 L126.8,231.3 L127.3,231.3 L127.8,231.3 L128.3,231.3 L128.8,231.3 L129.3,231.3 L129.8,231.3 L130.3,231.3 L130.8,231.3 L131.3,231.3 L131.8,231.3 L132.3,231.3 L132.8,231.3 L133.3,231.2 L133.8,231.2 L134.3,231.2 L134.8,231.2 L135.3,231.2 L135.8,231.2 L136.3,231.2 L136.8,231.2 L137.3,231.2 L137.8,231.2 L138.3,231.2 L138.8,231.1 L139.3,231.1 L139.8,231.1 L140.3,231.1 L140.8,231.1 L141.3,231.1 L141.8,231.1 L142.3,231.1 L142.8,231.1 L143.3,231.1 L143.8,231.0 L144.3,231.0 L144.8,231.0 L145.3,231.0 L145.8,231.0 L146.3,231.0 L146.8,231.0 L147.3,231.0 L147.8,231.0 L148.3,230.9 L148.8,230.9 L149.3,230.9 L149.8,230.9 L150.3,230.9 L150.8,230.9 L151.3,230.9 L151.8,230.9 L152.3,230.9 L152.8,230.8 L153.3,230.8 L153.8,230.8 L154.3,230.8 L154.8,230.8 L155.3,230.8 L155.8,230.8 L156.3,230.8 L156.8,230.8 L157.3,230.7 L157.8,230.7 L158.3,230.7 L158.8,230.7 L159.3,230.7 L159.8,230.7 L160.3,230.7 L160.8,230.7 L161.3,230.7 L161.8,230.7 L162.3,230.6 L162.8,230.6 L163.3,230.6 L163.8,230.6 L164.3,230.6 L164.8,230.6 L165.3,230.6 L165.8,230.6 L166.3,230.6 L166.8,230.6 L167.3,230.6 L167.8,230.6 L168.3,230.5 L168.8,230.5 L169.3,230.5 L169.8,230.5 L170.3,230.5 L170.8,230.5 L171.3,230.5 L171.8,230.5 L172.3,230.5 L172.8,230.5 L173.3,230.5 L173.8,230.5 L174.3,230.5 L174.8,230.5 L175.3,230.5 L175.8,230.5 L176.3,230.5 L176.8,230.5 L177.3,230.4 L177.8,230.4 L178.3,230.4 L178.8,230.4 L179.3,230.4 L179.8,230.4 L180.3,230.4 L180.8,230.4 L181.3,230.4 L181.8,230.4 L182.3,230.4 L182.8,230.4 L183.3,230.4 L183.8,230.4 L184.3,230.4 L184.8,230.4 L185.3,230.4 L185.8,230.4 L186.3,230.3 L186.8,230.3 L187.3,230.3 L187.8,230.3 L188.3,230.3 L188.8,230.3 L189.3,230.3 L189.8,230.3 L190.3,230.3 L190.8,230.3 L191.3,230.3 L191.8,230.3 L192.3,230.2 L192.8,230.2 L193.3,230.2 L193.8,230.2 L194.3,230.2 L194.8,230.2 L195.3,230.2 L195.8,230.2 L196.3,230.2 L196.8,230.1 L197.3,230.1 L197.8,230.1 L198.3,230.1 L198.8,230.1 L199.3,230.1 L199.8,230.0 L200.3,230.0 L200.8,230.0 L201.3,229.9 L201.8,229.9 L202.3,229.9 L202.8,229.8 L203.3,229.8 L203.8,229.7 L204.3,229.7 L204.8,229.7 L205.3,229.6 L205.8,229.6 L206.3,229.5 L206.8,229.5 L207.3,229.4 L207.8,229.3 L208.3,229.3 L208.8,229.2 L209.3,229.2 L209.8,229.1 L210.3,229.1 L210.8,229.0 L211.3,228.9 L211.8,228.9 L212.3,228.8 L212.8,228.7 L213.3,228.6 L213.8,228.6 L214.3,228.5 L214.8,228.4 L215.3,228.3 L215.8,228.2 L216.3,228.0 L216.8,227.9 L217.3,227.7 L217.8,227.6 L218.3,227.3 L218.8,226.9 L219.3,226.4 L219.8,225.9 L220.3,225.5 L220.8,225.1 L221.3,224.9 L221.8,224.9 L222.3,225.1 L222.8,225.4 L223.3,225.9 L223.8,226.4 L224.3,226.8 L224.8,227.1 L225.3,227.2 L225.8,227.3 L226.3,227.4 L226.8,227.5 L227.3,227.5 L227.8,227.6 L228.3,227.7 L228.8,227.7 L229.3,227.8 L229.8,227.8 L230.3,227.8 L230.8,227.8 L231.3,227.8 L231.8,227.8 L232.3,227.8 L232.8,227.8 L233.3,227.8 L233.8,227.8 L234.3,227.8 L234.8,227.8 L235.3,227.8 L235.8,227.8 L236.3,227.8 L236.8,227.8 L237.3,227.8 L237.8,227.8 L238.3,227.8 L238.8,227.8 L239.3,227.8 L239.8,227.8 L240.3,227.8 L240.8,227.8 L241.3,227.8 L241.8,227.7 L242.3,227.7 L242.8,227.7 L243.3,227.7 L243.8,227.7 L244.3,227.7 L244.8,227.7 L245.3,227.7 L245.8,227.7 L246.3,227.7 L246.8,227.7 L247.3,227.6 L247.8,227.6 L248.3,227.6 L248.8,227.6 L249.3,227.6 L249.8,227.6 L250.3,227.6 L250.8,227.6 L251.3,227.5 L251.8,227.5 L252.3,227.5 L252.8,227.5 L253.3,227.5 L253.8,227.5 L254.3,227.5 L254.8,227.4 L255.3,227.4 L255.8,227.4 L256.3,227.4 L256.8,227.4 L257.3,227.4 L257.8,227.4 L258.3,227.3 L258.8,227.3 L259.3,227.3 L259.8,227.3 L260.3,227.3 L260.8,227.3 L261.3,227.3 L261.8,227.2 L262.3,227.2 L262.8,227.2 L263.3,227.2 L263.8,227.2 L264.3,227.2 L264.8,227.2 L265.3,227.1 L265.8,227.1 L266.3,227.1 L266.8,227.1 L267.3,227.1 L267.8,227.1 L268.3,227.1 L268.8,227.0 L269.3,227.0 L269.8,227.0 L270.3,227.0 L270.8,227.0 L271.3,227.0 L271.8,226.9 L272.3,226.9 L272.8,226.9 L273.3,226.9 L273.8,226.9 L274.3,226.8 L274.8,226.8 L275.3,226.8 L275.8,226.8 L276.3,226.8 L276.8,226.7 L277.3,226.7 L277.8,226.7 L278.3,226.7 L278.8,226.7 L279.3,226.6 L279.8,226.6 L280.3,226.6 L280.8,226.6 L281.3,226.5 L281.8,226.5 L282.3,226.5 L282.8,226.4 L283.3,226.4 L283.8,226.4 L284.3,226.4 L284.8,226.3 L285.3,226.3 L285.8,226.3 L286.3,226.2 L286.8,226.2 L287.3,226.2 L287.8,226.2 L288.3,226.1 L288.8,226.1 L289.3,226.1 L289.8,226.0 L290.3,226.0 L290.8,226.0 L291.3,225.9 L291.8,225.9 L292.3,225.8 L292.8,225.8 L293.3,225.7 L293.8,225.7 L294.3,225.6 L294.8,225.6 L295.3,225.5 L295.8,225.5 L296.3,225.4 L296.8,225.4 L297.3,225.3 L297.8,225.2 L298.3,225.1 L298.8,225.1 L299.3,225.0 L299.8,224.9 L300.3,224.8 L300.8,224.7 L301.3,224.6 L301.8,224.5 L302.3,224.4 L302.8,224.3 L303.3,224.0 L303.8,223.7 L304.3,223.4 L304.8,223.0 L305.3,222.5 L305.8,222.1 L306.3,221.6 L306.8,220.9 L307.3,220.1 L307.8,219.1 L308.3,218.1 L308.8,217.3 L309.3,216.7 L309.8,216.4 L310.3,216.0 L310.8,215.7 L311.3,215.4 L311.8,215.2 L312.3,215.0 L312.8,214.8 L313.3,214.6 L313.8,214.5 L314.3,214.4 L314.8,214.4 L315.3,214.3 L315.8,214.2 L316.3,214.2 L316.8,214.1 L317.3,214.1 L317.8,214.0 L318.3,214.0 L318.8,213.9 L319.3,213.9 L319.8,213.9 L320.3,213.8 L320.8,213.8 L321.3,213.8 L321.8,213.7 L322.3,213.7 L322.8,213.6 L323.3,213.6 L323.8,213.5 L324.3,213.5 L324.8,213.4 L325.3,213.3 L325.8,213.3 L326.3,213.2 L326.8,213.1 L327.3,213.0 L327.8,212.9 L328.3,212.9 L328.8,212.8 L329.3,212.7 L329.8,212.6 L330.3,212.5 L330.8,212.4 L331.3,212.2 L331.8,212.1 L332.3,212.0 L332.8,211.9 L333.3,211.8 L333.8,211.7 L334.3,211.5 L334.8,211.4 L335.3,211.3 L335.8,211.2 L336.3,211.0 L336.8,210.9 L337.3,210.8 L337.8,210.6 L338.3,210.5 L338.8,210.3 L339.3,210.2 L339.8,210.1 L340.3,209.9 L340.8,209.8 L341.3,209.6 L341.8,209.5 L342.3,209.3 L342.8,209.2 L343.3,209.0 L343.8,208.9 L344.3,208.7 L344.8,208.6 L345.3,208.4 L345.8,208.3 L346.3,208.1 L346.8,208.0 L347.3,207.8 L347.8,207.7 L348.3,207.5 L348.8,207.4 L349.3,207.2 L349.8,207.1 L350.3,206.9 L350.8,206.8 L351.3,206.6 L351.8,206.4 L352.3,206.3 L352.8,206.1 L353.3,205.9 L353.8,205.8 L354.3,205.6 L354.8,205.4 L355.3,205.2 L355.8,205.1 L356.3,204.9 L356.8,204.7 L357.3,204.5 L357.8,204.3 L358.3,204.2 L358.8,204.0 L359.3,203.8 L359.8,203.6 L360.3,203.4 L360.8,203.2 L361.3,203.0 L361.8,202.8 L362.3,202.6 L362.8,202.4 L363.3,202.2 L363.8,202.0 L364.3,201.8 L364.8,201.6 L365.3,201.4 L365.8,201.2 L366.3,201.0 L366.8,200.8 L367.3,200.6 L367.8,200.4 L368.3,200.2 L368.8,200.0 L369.3,199.8 L369.8,199.6 L370.3,199.4 L370.8,199.2 L371.3,199.0 L371.8,198.8 L372.3,198.6 L372.8,198.4 L373.3,198.1 L373.8,197.9 L374.3,197.7 L374.8,197.5 L375.3,197.3 L375.8,197.1 L376.3,196.8 L376.8,196.6 L377.3,196.4 L377.8,196.2 L378.3,195.9 L378.8,195.7 L379.3,195.5 L379.8,195.2 L380.3,195.0 L380.8,194.7 L381.3,194.5 L381.8,194.2 L382.3,194.0 L382.8,193.7 L383.3,193.5 L383.8,193.2 L384.3,192.9 L384.8,192.6 L385.3,192.4 L385.8,192.1 L386.3,191.8 L386.8,191.5 L387.3,191.1 L387.8,190.8 L388.3,190.5 L388.8,190.2 L389.3,189.8 L389.8,189.5 L390.3,189.1 L390.8,188.8 L391.3,188.4 L391.8,188.1 L392.3,187.7 L392.8,187.3 L393.3,186.9 L393.8,186.5 L394.3,186.1 L394.8,185.7 L395.3,185.3 L395.8,184.8 L396.3,184.4 L396.8,183.9 L397.3,183.5 L397.8,183.0 L398.3,182.5 L398.8,182.0" fill="none" stroke="#ff0000" stroke-width="1.6" stroke-dasharray="1.2 0.75" stroke-linejoin="round"/>
<path d="M87.00,236.20v-4.4M87.00,30.10v4.4M106.52,236.20v-2.2M106.52,30.10v2.2M126.04,236.20v-2.2M126.04,30.10v2.2M145.56,236.20v-2.2M145.56,30.10v2.2M165.07,236.20v-2.2M165.07,30.10v2.2M184.59,236.20v-4.4M184.59,30.10v4.4M204.11,236.20v-2.2M204.11,30.10v2.2M223.63,236.20v-2.2M223.63,30.10v2.2M243.15,236.20v-2.2M243.15,30.10v2.2M262.67,236.20v-2.2M262.67,30.10v2.2M282.19,236.20v-4.4M282.19,30.10v4.4M301.71,236.20v-2.2M301.71,30.10v2.2M321.23,236.20v-2.2M321.23,30.10v2.2M340.74,236.20v-2.2M340.74,30.10v2.2M360.26,236.20v-2.2M360.26,30.10v2.2M379.78,236.20v-4.4M379.78,30.10v4.4M399.30,236.20v-2.2M399.30,30.10v2.2M87.00,236.20h4.4M399.30,236.20h-4.4M87.00,230.31h2.2M399.30,230.31h-2.2M87.00,224.42h2.2M399.30,224.42h-2.2M87.00,218.53h2.2M399.30,218.53h-2.2M87.00,212.65h2.2M399.30,212.65h-2.2M87.00,206.76h2.2M399.30,206.76h-2.2M87.00,200.87h2.2M399.30,200.87h-2.2M87.00,194.98h2.2M399.30,194.98h-2.2M87.00,189.09h2.2M399.30,189.09h-2.2M87.00,183.20h2.2M399.30,183.20h-2.2M87.00,177.31h4.4M399.30,177.31h-4.4M87.00,171.43h2.2M399.30,171.43h-2.2M87.00,165.54h2.2M399.30,165.54h-2.2M87.00,159.65h2.2M399.30,159.65h-2.2M87.00,153.76h2.2M399.30,153.76h-2.2M87.00,147.87h2.2M399.30,147.87h-2.2M87.00,141.98h2.2M399.30,141.98h-2.2M87.00,136.09h2.2M399.30,136.09h-2.2M87.00,130.21h2.2M399.30,130.21h-2.2M87.00,124.32h2.2M399.30,124.32h-2.2M87.00,118.43h4.4M399.30,118.43h-4.4M87.00,112.54h2.2M399.30,112.54h-2.2M87.00,106.65h2.2M399.30,106.65h-2.2M87.00,100.76h2.2M399.30,100.76h-2.2M87.00,94.87h2.2M399.30,94.87h-2.2M87.00,88.99h2.2M399.30,88.99h-2.2M87.00,83.10h2.2M399.30,83.10h-2.2M87.00,77.21h2.2M399.30,77.21h-2.2M87.00,71.32h2.2M399.30,71.32h-2.2M87.00,65.43h2.2M399.30,65.43h-2.2M87.00,59.54h4.4M399.30,59.54h-4.4M87.00,53.65h2.2M399.30,53.65h-2.2M87.00,47.77h2.2M399.30,47.77h-2.2M87.00,41.88h2.2M399.30,41.88h-2.2M87.00,35.99h2.2M399.30,35.99h-2.2M87.00,30.10h2.2M399.30,30.10h-2.2" stroke="#000" stroke-width="0.9" fill="none"/>
<rect x="87.00" y="30.10" width="312.30" height="206.10" fill="none" stroke="#000" stroke-width="1.5"/>
<text x="8.5" y="15.0" font-size="20.3">(a) Mo<tspan dy="5.2" font-size="16.4">2</tspan><tspan dy="-5.2">HfC</tspan><tspan dy="5.2" font-size="16.4">2</tspan><tspan dy="-5.2">O</tspan><tspan dy="5.2" font-size="16.4">2</tspan></text>
<text x="75.0" y="243.1" font-size="20.2" text-anchor="end">0</text>
<text x="75.0" y="184.2" font-size="20.2" text-anchor="end">10</text>
<text x="75.0" y="125.3" font-size="20.2" text-anchor="end">20</text>
<text x="75.0" y="66.4" font-size="20.2" text-anchor="end">30</text>
<text x="89.1" y="263.4" font-size="20" text-anchor="middle">0</text>
<text x="187.0" y="263.4" font-size="20" text-anchor="middle">0.5</text>
<text x="284.6" y="263.4" font-size="20" text-anchor="middle">1</text>
<text x="382.7" y="263.4" font-size="20" text-anchor="middle">1.5</text>
<text x="243" y="282.1" font-size="20.3" text-anchor="middle">Photon energy (eV)</text>
<text transform="translate(31.6,133.8) rotate(-90)" font-size="20" text-anchor="middle"><tspan font-size="22.5">ω</tspan> · Re[<tspan font-size="22.5">σ</tspan>(<tspan font-size="22.5">ω</tspan>)]</text>
<circle cx="127.2" cy="163.3" r="6.85" fill="none" stroke="#000" stroke-width="0.8"/>
<text transform="translate(127.2,167.8) scale(1.2,1)" font-size="13.2" stroke="#000" stroke-width="0.35" text-anchor="middle">1</text>
<path d="M126.8,177.4V191.1" stroke="#000" stroke-width="1.6" fill="none"/>
<path d="M126.8,197.1l-2.5,-7.4h5z" fill="#000"/>
<circle cx="202.0" cy="134.8" r="6.85" fill="none" stroke="#000" stroke-width="0.8"/>
<text transform="translate(202.0,139.3) scale(1.2,1)" font-size="13.2" stroke="#000" stroke-width="0.35" text-anchor="middle">2</text>
<path d="M201.6,147.4V161.0" stroke="#000" stroke-width="1.6" fill="none"/>
<path d="M201.6,167.0l-2.5,-7.4h5z" fill="#000"/>
<circle cx="221.8" cy="122.4" r="6.85" fill="none" stroke="#000" stroke-width="0.8"/>
<text transform="translate(221.8,126.9) scale(1.2,1)" font-size="13.2" stroke="#000" stroke-width="0.35" text-anchor="middle">3</text>
<path d="M221.4,135.5V149.9" stroke="#000" stroke-width="1.6" fill="none"/>
<path d="M221.4,155.9l-2.5,-7.4h5z" fill="#000"/>
<circle cx="307.7" cy="105.7" r="6.85" fill="none" stroke="#000" stroke-width="0.8"/>
<text transform="translate(307.7,110.2) scale(1.2,1)" font-size="13.2" stroke="#000" stroke-width="0.35" text-anchor="middle">4</text>
<path d="M307.3,116.7V132.6" stroke="#000" stroke-width="1.6" fill="none"/>
<path d="M307.3,138.6l-2.5,-7.4h5z" fill="#000"/>
<text transform="translate(105.6,54.4) scale(1.17,1)" font-size="16.4">θ</text>
<text x="113.9" y="54.4" font-size="16.8">=</text>
<text x="146.9" y="54.4" font-size="16.8" text-anchor="end">0°</text>
<path d="M157,49.0H201.4" stroke="#9400d3" stroke-width="1.6" fill="none"/>
<text transform="translate(105.6,71.2) scale(1.17,1)" font-size="16.4">θ</text>
<text x="113.9" y="71.2" font-size="16.8">=30°</text>
<path d="M157,65.8H201.4" stroke="#1485ff" stroke-width="1.6" stroke-dasharray="5.4 1.5" fill="none"/>
<text transform="translate(105.6,88.0) scale(1.17,1)" font-size="16.4">θ</text>
<text x="113.9" y="88.0" font-size="16.8">=45°</text>
<path d="M157,82.6H201.4" stroke="#00c000" stroke-width="1.6" stroke-dasharray="5.4 1.3 1.5 1.3" fill="none"/>
<text transform="translate(105.6,104.8) scale(1.17,1)" font-size="16.4">θ</text>
<text x="113.9" y="104.8" font-size="16.8">=60°</text>
<path d="M157,99.4H201.4" stroke="#ffa500" stroke-width="1.6" stroke-dasharray="5.4 1.4 1.4 1.4 1.4 1.4" fill="none"/>
<text transform="translate(105.6,121.6) scale(1.17,1)" font-size="16.4">θ</text>
<text x="113.9" y="121.6" font-size="16.8">=90°</text>
<path d="M157,116.2H201.4" stroke="#ff0000" stroke-width="1.6" stroke-dasharray="1.2 0.75" fill="none"/>
<text x="238.2" y="56.5" font-size="16.6">T = 100K, δ = 10meV</text>
<line x1="163.60" y1="321.3" x2="163.60" y2="526.7" stroke="#000" stroke-width="1" stroke-dasharray="1.6 1.76" opacity="0.85"/>
<line x1="213.40" y1="321.3" x2="213.40" y2="526.7" stroke="#000" stroke-width="1" stroke-dasharray="1.6 1.76" opacity="0.85"/>
<line x1="276.90" y1="321.3" x2="276.90" y2="526.7" stroke="#000" stroke-width="1" stroke-dasharray="1.6 1.76" opacity="0.85"/>
<line x1="350.90" y1="321.3" x2="350.90" y2="526.7" stroke="#000" stroke-width="1" stroke-dasharray="1.6 1.76" opacity="0.85"/>
<path d="M86.8,516.7 L87.3,516.7 L87.8,516.7 L88.3,516.7 L88.8,516.7 L89.3,516.7 L89.8,516.7 L90.3,516.7 L90.8,516.7 L91.3,516.7 L91.8,516.7 L92.3,516.7 L92.8,516.7 L93.3,516.7 L93.8,516.6 L94.3,516.6 L94.8,516.6 L95.3,516.6 L95.8,516.6 L96.3,516.6 L96.8,516.6 L97.3,516.6 L97.8,516.6 L98.3,516.6 L98.8,516.5 L99.3,516.5 L99.8,516.5 L100.3,516.5 L100.8,516.5 L101.3,516.5 L101.8,516.5 L102.3,516.5 L102.8,516.4 L103.3,516.4 L103.8,516.4 L104.3,516.4 L104.8,516.4 L105.3,516.3 L105.8,516.3 L106.3,516.3 L106.8,516.3 L107.3,516.3 L107.8,516.3 L108.3,516.2 L108.8,516.2 L109.3,516.2 L109.8,516.2 L110.3,516.1 L110.8,516.1 L111.3,516.1 L111.8,516.1 L112.3,516.0 L112.8,516.0 L113.3,516.0 L113.8,516.0 L114.3,515.9 L114.8,515.9 L115.3,515.9 L115.8,515.9 L116.3,515.8 L116.8,515.8 L117.3,515.8 L117.8,515.8 L118.3,515.7 L118.8,515.7 L119.3,515.7 L119.8,515.6 L120.3,515.6 L120.8,515.6 L121.3,515.5 L121.8,515.5 L122.3,515.5 L122.8,515.4 L123.3,515.4 L123.8,515.4 L124.3,515.3 L124.8,515.3 L125.3,515.3 L125.8,515.2 L126.3,515.2 L126.8,515.2 L127.3,515.1 L127.8,515.1 L128.3,515.1 L128.8,515.0 L129.3,515.0 L129.8,514.9 L130.3,514.9 L130.8,514.9 L131.3,514.8 L131.8,514.8 L132.3,514.7 L132.8,514.7 L133.3,514.6 L133.8,514.6 L134.3,514.5 L134.8,514.4 L135.3,514.4 L135.8,514.3 L136.3,514.2 L136.8,514.1 L137.3,514.0 L137.8,513.9 L138.3,513.8 L138.8,513.7 L139.3,513.6 L139.8,513.5 L140.3,513.4 L140.8,513.3 L141.3,513.2 L141.8,513.0 L142.3,512.9 L142.8,512.8 L143.3,512.6 L143.8,512.5 L144.3,512.3 L144.8,512.1 L145.3,512.0 L145.8,511.8 L146.3,511.6 L146.8,511.5 L147.3,511.3 L147.8,511.1 L148.3,510.8 L148.8,510.5 L149.3,510.2 L149.8,509.9 L150.3,509.5 L150.8,509.1 L151.3,508.7 L151.8,508.2 L152.3,507.6 L152.8,507.0 L153.3,506.4 L153.8,505.6 L154.3,504.7 L154.8,503.4 L155.3,501.7 L155.8,499.7 L156.3,497.3 L156.8,494.5 L157.3,491.3 L157.8,486.0 L158.3,478.8 L158.8,471.5 L159.3,463.4 L159.8,454.0 L160.3,446.0 L160.8,442.2 L161.3,442.9 L161.8,445.4 L162.3,448.4 L162.8,451.2 L163.3,454.4 L163.8,456.9 L164.3,458.8 L164.8,460.3 L165.3,461.6 L165.8,462.6 L166.3,463.5 L166.8,464.3 L167.3,465.0 L167.8,465.6 L168.3,466.0 L168.8,466.4 L169.3,466.8 L169.8,467.1 L170.3,467.4 L170.8,467.7 L171.3,467.9 L171.8,468.1 L172.3,468.3 L172.8,468.5 L173.3,468.6 L173.8,468.8 L174.3,468.9 L174.8,469.0 L175.3,469.1 L175.8,469.2 L176.3,469.3 L176.8,469.4 L177.3,469.4 L177.8,469.5 L178.3,469.6 L178.8,469.6 L179.3,469.7 L179.8,469.7 L180.3,469.8 L180.8,469.8 L181.3,469.9 L181.8,469.9 L182.3,469.9 L182.8,470.0 L183.3,470.0 L183.8,470.0 L184.3,470.0 L184.8,470.0 L185.3,470.0 L185.8,470.0 L186.3,470.0 L186.8,469.9 L187.3,469.9 L187.8,469.9 L188.3,469.8 L188.8,469.8 L189.3,469.7 L189.8,469.7 L190.3,469.6 L190.8,469.6 L191.3,469.5 L191.8,469.5 L192.3,469.4 L192.8,469.3 L193.3,469.3 L193.8,469.2 L194.3,469.1 L194.8,469.0 L195.3,468.9 L195.8,468.8 L196.3,468.7 L196.8,468.6 L197.3,468.4 L197.8,468.3 L198.3,468.2 L198.8,468.0 L199.3,467.9 L199.8,467.7 L200.3,467.6 L200.8,467.5 L201.3,467.3 L201.8,467.2 L202.3,467.1 L202.8,466.9 L203.3,466.8 L203.8,466.6 L204.3,466.4 L204.8,466.3 L205.3,466.1 L205.8,465.9 L206.3,465.6 L206.8,465.4 L207.3,465.1 L207.8,464.9 L208.3,464.6 L208.8,464.2 L209.3,463.8 L209.8,463.2 L210.3,462.5 L210.8,461.7 L211.3,460.9 L211.8,460.1 L212.3,459.2 L212.8,458.2 L213.3,457.2 L213.8,456.2 L214.3,455.2 L214.8,454.3 L215.3,453.6 L215.8,453.0 L216.3,452.4 L216.8,452.0 L217.3,451.6 L217.8,451.3 L218.3,451.0 L218.8,450.8 L219.3,450.6 L219.8,450.3 L220.3,450.2 L220.8,450.0 L221.3,449.8 L221.8,449.6 L222.3,449.5 L222.8,449.3 L223.3,449.2 L223.8,449.0 L224.3,448.9 L224.8,448.7 L225.3,448.6 L225.8,448.4 L226.3,448.3 L226.8,448.2 L227.3,448.0 L227.8,447.9 L228.3,447.8 L228.8,447.6 L229.3,447.5 L229.8,447.4 L230.3,447.3 L230.8,447.1 L231.3,447.0 L231.8,446.9 L232.3,446.8 L232.8,446.6 L233.3,446.5 L233.8,446.4 L234.3,446.3 L234.8,446.2 L235.3,446.1 L235.8,445.9 L236.3,445.8 L236.8,445.7 L237.3,445.6 L237.8,445.5 L238.3,445.4 L238.8,445.2 L239.3,445.1 L239.8,445.0 L240.3,444.9 L240.8,444.8 L241.3,444.7 L241.8,444.6 L242.3,444.5 L242.8,444.4 L243.3,444.3 L243.8,444.2 L244.3,444.1 L244.8,443.9 L245.3,443.8 L245.8,443.7 L246.3,443.6 L246.8,443.5 L247.3,443.4 L247.8,443.3 L248.3,443.2 L248.8,443.1 L249.3,443.0 L249.8,442.9 L250.3,442.8 L250.8,442.7 L251.3,442.6 L251.8,442.5 L252.3,442.3 L252.8,442.2 L253.3,442.1 L253.8,442.0 L254.3,441.9 L254.8,441.8 L255.3,441.7 L255.8,441.6 L256.3,441.5 L256.8,441.4 L257.3,441.3 L257.8,441.1 L258.3,441.0 L258.8,440.9 L259.3,440.8 L259.8,440.7 L260.3,440.6 L260.8,440.5 L261.3,440.4 L261.8,440.3 L262.3,440.2 L262.8,440.1 L263.3,439.9 L263.8,439.8 L264.3,439.7 L264.8,439.6 L265.3,439.5 L265.8,439.4 L266.3,439.3 L266.8,439.2 L267.3,439.1 L267.8,439.0 L268.3,438.9 L268.8,438.8 L269.3,438.7 L269.8,438.6 L270.3,438.5 L270.8,438.4 L271.3,438.4 L271.8,438.3 L272.3,438.2 L272.8,438.0 L273.3,437.9 L273.8,437.8 L274.3,437.5 L274.8,437.2 L275.3,436.8 L275.8,436.3 L276.3,435.9 L276.8,435.5 L277.3,435.2 L277.8,434.9 L278.3,434.7 L278.8,434.5 L279.3,434.3 L279.8,434.1 L280.3,433.9 L280.8,433.7 L281.3,433.5 L281.8,433.3 L282.3,433.2 L282.8,433.0 L283.3,432.9 L283.8,432.7 L284.3,432.5 L284.8,432.4 L285.3,432.2 L285.8,432.0 L286.3,431.9 L286.8,431.7 L287.3,431.6 L287.8,431.4 L288.3,431.3 L288.8,431.1 L289.3,430.9 L289.8,430.8 L290.3,430.6 L290.8,430.4 L291.3,430.2 L291.8,430.0 L292.3,429.9 L292.8,429.7 L293.3,429.5 L293.8,429.3 L294.3,429.1 L294.8,428.9 L295.3,428.7 L295.8,428.5 L296.3,428.3 L296.8,428.1 L297.3,428.0 L297.8,427.8 L298.3,427.6 L298.8,427.4 L299.3,427.2 L299.8,427.0 L300.3,426.9 L300.8,426.7 L301.3,426.5 L301.8,426.3 L302.3,426.1 L302.8,425.9 L303.3,425.8 L303.8,425.6 L304.3,425.4 L304.8,425.2 L305.3,425.0 L305.8,424.9 L306.3,424.7 L306.8,424.5 L307.3,424.3 L307.8,424.1 L308.3,423.9 L308.8,423.7 L309.3,423.6 L309.8,423.4 L310.3,423.2 L310.8,423.0 L311.3,422.8 L311.8,422.6 L312.3,422.4 L312.8,422.2 L313.3,422.0 L313.8,421.8 L314.3,421.6 L314.8,421.4 L315.3,421.2 L315.8,421.0 L316.3,420.8 L316.8,420.6 L317.3,420.4 L317.8,420.2 L318.3,420.0 L318.8,419.8 L319.3,419.6 L319.8,419.4 L320.3,419.2 L320.8,418.9 L321.3,418.7 L321.8,418.5 L322.3,418.3 L322.8,418.0 L323.3,417.8 L323.8,417.6 L324.3,417.3 L324.8,417.1 L325.3,416.9 L325.8,416.6 L326.3,416.4 L326.8,416.1 L327.3,415.9 L327.8,415.6 L328.3,415.4 L328.8,415.1 L329.3,414.9 L329.8,414.6 L330.3,414.4 L330.8,414.1 L331.3,413.9 L331.8,413.6 L332.3,413.4 L332.8,413.1 L333.3,412.8 L333.8,412.6 L334.3,412.3 L334.8,412.1 L335.3,411.8 L335.8,411.5 L336.3,411.3 L336.8,411.0 L337.3,410.7 L337.8,410.4 L338.3,410.2 L338.8,409.9 L339.3,409.6 L339.8,409.3 L340.3,409.0 L340.8,408.8 L341.3,408.5 L341.8,408.2 L342.3,407.9 L342.8,407.6 L343.3,407.3 L343.8,407.0 L344.3,406.7 L344.8,406.4 L345.3,406.1 L345.8,405.8 L346.3,405.5 L346.8,405.2 L347.3,404.8 L347.8,404.5 L348.3,404.2 L348.8,403.9 L349.3,403.5 L349.8,403.2 L350.3,402.8 L350.8,402.5 L351.3,402.2 L351.8,401.8 L352.3,401.5 L352.8,401.1 L353.3,400.8 L353.8,400.4 L354.3,400.1 L354.8,399.7 L355.3,399.4 L355.8,399.0 L356.3,398.7 L356.8,398.3 L357.3,398.0 L357.8,397.6 L358.3,397.2 L358.8,396.9 L359.3,396.5 L359.8,396.2 L360.3,395.8 L360.8,395.5 L361.3,395.1 L361.8,394.7 L362.3,394.4 L362.8,394.0 L363.3,393.5 L363.8,393.1 L364.3,392.7 L364.8,392.3 L365.3,391.8 L365.8,391.4 L366.3,391.0 L366.8,390.5 L367.3,390.0 L367.8,389.6 L368.3,389.1 L368.8,388.6 L369.3,388.1 L369.8,387.6 L370.3,387.0 L370.8,386.5 L371.3,385.9 L371.8,385.4 L372.3,384.8 L372.8,384.2 L373.3,383.6 L373.8,382.9 L374.3,382.2 L374.8,381.5 L375.3,380.8 L375.8,380.1 L376.3,379.3 L376.8,378.5 L377.3,377.7 L377.8,376.9 L378.3,376.1 L378.8,375.2 L379.3,374.3 L379.8,373.4 L380.3,372.5 L380.8,371.5 L381.3,370.5 L381.8,369.5 L382.3,368.4 L382.8,367.3 L383.3,366.2 L383.8,365.1 L384.3,363.9 L384.8,362.7 L385.3,361.4 L385.8,360.1 L386.3,358.8 L386.8,357.4 L387.3,356.0 L387.8,354.5 L388.3,353.0 L388.8,351.3 L389.3,349.7 L389.8,347.9 L390.3,346.1 L390.8,344.2 L391.3,342.1 L391.8,340.0 L392.3,337.8 L392.8,335.4 L393.3,332.7 L393.8,329.9 L394.3,327.0 L394.8,324.0 L395.3,321.1" fill="none" stroke="#9400d3" stroke-width="1.6" stroke-linejoin="round"/>
<path d="M86.8,518.3 L87.3,518.3 L87.8,518.3 L88.3,518.3 L88.8,518.3 L89.3,518.3 L89.8,518.3 L90.3,518.3 L90.8,518.3 L91.3,518.3 L91.8,518.3 L92.3,518.3 L92.8,518.3 L93.3,518.3 L93.8,518.3 L94.3,518.2 L94.8,518.2 L95.3,518.2 L95.8,518.2 L96.3,518.2 L96.8,518.2 L97.3,518.2 L97.8,518.2 L98.3,518.2 L98.8,518.2 L99.3,518.2 L99.8,518.1 L100.3,518.1 L100.8,518.1 L101.3,518.1 L101.8,518.1 L102.3,518.1 L102.8,518.1 L103.3,518.0 L103.8,518.0 L104.3,518.0 L104.8,518.0 L105.3,518.0 L105.8,518.0 L106.3,518.0 L106.8,517.9 L107.3,517.9 L107.8,517.9 L108.3,517.9 L108.8,517.9 L109.3,517.8 L109.8,517.8 L110.3,517.8 L110.8,517.8 L111.3,517.8 L111.8,517.7 L112.3,517.7 L112.8,517.7 L113.3,517.7 L113.8,517.7 L114.3,517.6 L114.8,517.6 L115.3,517.6 L115.8,517.6 L116.3,517.5 L116.8,517.5 L117.3,517.5 L117.8,517.5 L118.3,517.4 L118.8,517.4 L119.3,517.4 L119.8,517.4 L120.3,517.3 L120.8,517.3 L121.3,517.3 L121.8,517.2 L122.3,517.2 L122.8,517.2 L123.3,517.2 L123.8,517.1 L124.3,517.1 L124.8,517.1 L125.3,517.0 L125.8,517.0 L126.3,517.0 L126.8,517.0 L127.3,516.9 L127.8,516.9 L128.3,516.9 L128.8,516.8 L129.3,516.8 L129.8,516.8 L130.3,516.7 L130.8,516.7 L131.3,516.7 L131.8,516.6 L132.3,516.6 L132.8,516.6 L133.3,516.5 L133.8,516.5 L134.3,516.4 L134.8,516.4 L135.3,516.3 L135.8,516.2 L136.3,516.2 L136.8,516.1 L137.3,516.1 L137.8,516.0 L138.3,515.9 L138.8,515.8 L139.3,515.8 L139.8,515.7 L140.3,515.6 L140.8,515.5 L141.3,515.4 L141.8,515.3 L142.3,515.2 L142.8,515.1 L143.3,515.0 L143.8,514.9 L144.3,514.8 L144.8,514.7 L145.3,514.6 L145.8,514.5 L146.3,514.3 L146.8,514.2 L147.3,514.1 L147.8,513.9 L148.3,513.8 L148.8,513.6 L149.3,513.4 L149.8,513.1 L150.3,512.9 L150.8,512.6 L151.3,512.3 L151.8,512.0 L152.3,511.6 L152.8,511.2 L153.3,510.7 L153.8,510.2 L154.3,509.6 L154.8,508.6 L155.3,507.3 L155.8,505.8 L156.3,503.9 L156.8,501.9 L157.3,499.5 L157.8,495.6 L158.3,490.5 L158.8,485.2 L159.3,479.4 L159.8,472.6 L160.3,466.9 L160.8,464.0 L161.3,464.3 L161.8,465.5 L162.3,467.2 L162.8,469.2 L163.3,471.1 L163.8,472.8 L164.3,474.0 L164.8,475.1 L165.3,476.1 L165.8,477.0 L166.3,477.8 L166.8,478.5 L167.3,479.1 L167.8,479.5 L168.3,479.9 L168.8,480.3 L169.3,480.6 L169.8,480.9 L170.3,481.1 L170.8,481.4 L171.3,481.6 L171.8,481.8 L172.3,482.0 L172.8,482.2 L173.3,482.4 L173.8,482.6 L174.3,482.7 L174.8,482.9 L175.3,483.0 L175.8,483.2 L176.3,483.3 L176.8,483.5 L177.3,483.6 L177.8,483.7 L178.3,483.9 L178.8,484.0 L179.3,484.1 L179.8,484.2 L180.3,484.3 L180.8,484.4 L181.3,484.5 L181.8,484.5 L182.3,484.6 L182.8,484.6 L183.3,484.6 L183.8,484.5 L184.3,484.3 L184.8,484.2 L185.3,484.1 L185.8,484.0 L186.3,484.0 L186.8,483.9 L187.3,483.9 L187.8,483.9 L188.3,483.8 L188.8,483.8 L189.3,483.8 L189.8,483.7 L190.3,483.7 L190.8,483.7 L191.3,483.7 L191.8,483.7 L192.3,483.6 L192.8,483.6 L193.3,483.6 L193.8,483.6 L194.3,483.6 L194.8,483.5 L195.3,483.5 L195.8,483.5 L196.3,483.5 L196.8,483.4 L197.3,483.4 L197.8,483.4 L198.3,483.3 L198.8,483.3 L199.3,483.2 L199.8,483.2 L200.3,483.1 L200.8,483.0 L201.3,482.9 L201.8,482.9 L202.3,482.8 L202.8,482.6 L203.3,482.5 L203.8,482.4 L204.3,482.3 L204.8,482.1 L205.3,481.9 L205.8,481.8 L206.3,481.6 L206.8,481.4 L207.3,481.2 L207.8,481.0 L208.3,480.7 L208.8,480.5 L209.3,480.2 L209.8,479.9 L210.3,479.5 L210.8,478.9 L211.3,478.2 L211.8,477.5 L212.3,476.8 L212.8,476.0 L213.3,475.2 L213.8,474.3 L214.3,473.5 L214.8,472.9 L215.3,472.2 L215.8,471.6 L216.3,471.1 L216.8,470.6 L217.3,470.3 L217.8,470.0 L218.3,469.7 L218.8,469.5 L219.3,469.3 L219.8,469.2 L220.3,469.0 L220.8,468.9 L221.3,468.8 L221.8,468.7 L222.3,468.6 L222.8,468.5 L223.3,468.4 L223.8,468.3 L224.3,468.3 L224.8,468.2 L225.3,468.1 L225.8,468.0 L226.3,467.9 L226.8,467.9 L227.3,467.8 L227.8,467.7 L228.3,467.6 L228.8,467.5 L229.3,467.4 L229.8,467.4 L230.3,467.3 L230.8,467.2 L231.3,467.1 L231.8,467.1 L232.3,467.0 L232.8,466.9 L233.3,466.8 L233.8,466.8 L234.3,466.7 L234.8,466.6 L235.3,466.6 L235.8,466.5 L236.3,466.4 L236.8,466.4 L237.3,466.3 L237.8,466.2 L238.3,466.2 L238.8,466.1 L239.3,466.0 L239.8,466.0 L240.3,465.9 L240.8,465.8 L241.3,465.8 L241.8,465.7 L242.3,465.6 L242.8,465.6 L243.3,465.5 L243.8,465.4 L244.3,465.4 L244.8,465.3 L245.3,465.2 L245.8,465.2 L246.3,465.1 L246.8,465.0 L247.3,465.0 L247.8,464.9 L248.3,464.8 L248.8,464.8 L249.3,464.7 L249.8,464.6 L250.3,464.6 L250.8,464.5 L251.3,464.4 L251.8,464.3 L252.3,464.3 L252.8,464.2 L253.3,464.1 L253.8,464.0 L254.3,464.0 L254.8,463.9 L255.3,463.8 L255.8,463.7 L256.3,463.6 L256.8,463.6 L257.3,463.5 L257.8,463.4 L258.3,463.3 L258.8,463.2 L259.3,463.1 L259.8,463.1 L260.3,463.0 L260.8,462.9 L261.3,462.8 L261.8,462.7 L262.3,462.6 L262.8,462.5 L263.3,462.4 L263.8,462.3 L264.3,462.2 L264.8,462.1 L265.3,462.0 L265.8,461.9 L266.3,461.9 L266.8,461.8 L267.3,461.7 L267.8,461.6 L268.3,461.5 L268.8,461.4 L269.3,461.3 L269.8,461.2 L270.3,461.1 L270.8,460.9 L271.3,460.8 L271.8,460.7 L272.3,460.5 L272.8,460.4 L273.3,460.2 L273.8,460.0 L274.3,459.7 L274.8,459.4 L275.3,459.1 L275.8,458.6 L276.3,458.1 L276.8,457.6 L277.3,457.2 L277.8,456.9 L278.3,456.7 L278.8,456.5 L279.3,456.4 L279.8,456.4 L280.3,456.3 L280.8,456.3 L281.3,456.2 L281.8,456.2 L282.3,456.1 L282.8,456.1 L283.3,456.1 L283.8,456.0 L284.3,456.0 L284.8,456.0 L285.3,456.0 L285.8,456.0 L286.3,455.9 L286.8,455.9 L287.3,455.9 L287.8,455.9 L288.3,455.8 L288.8,455.8 L289.3,455.8 L289.8,455.8 L290.3,455.7 L290.8,455.7 L291.3,455.6 L291.8,455.6 L292.3,455.5 L292.8,455.5 L293.3,455.4 L293.8,455.3 L294.3,455.2 L294.8,455.1 L295.3,455.0 L295.8,454.9 L296.3,454.8 L296.8,454.7 L297.3,454.6 L297.8,454.5 L298.3,454.3 L298.8,454.2 L299.3,454.1 L299.8,453.9 L300.3,453.8 L300.8,453.7 L301.3,453.5 L301.8,453.4 L302.3,453.2 L302.8,453.1 L303.3,452.9 L303.8,452.8 L304.3,452.6 L304.8,452.5 L305.3,452.3 L305.8,452.2 L306.3,452.1 L306.8,451.9 L307.3,451.8 L307.8,451.6 L308.3,451.5 L308.8,451.3 L309.3,451.2 L309.8,451.1 L310.3,450.9 L310.8,450.8 L311.3,450.7 L311.8,450.5 L312.3,450.4 L312.8,450.3 L313.3,450.2 L313.8,450.0 L314.3,449.9 L314.8,449.8 L315.3,449.6 L315.8,449.5 L316.3,449.4 L316.8,449.3 L317.3,449.1 L317.8,449.0 L318.3,448.9 L318.8,448.7 L319.3,448.6 L319.8,448.5 L320.3,448.3 L320.8,448.2 L321.3,448.1 L321.8,447.9 L322.3,447.8 L322.8,447.7 L323.3,447.5 L323.8,447.4 L324.3,447.3 L324.8,447.1 L325.3,447.0 L325.8,446.9 L326.3,446.7 L326.8,446.6 L327.3,446.4 L327.8,446.3 L328.3,446.1 L328.8,446.0 L329.3,445.8 L329.8,445.7 L330.3,445.5 L330.8,445.4 L331.3,445.2 L331.8,445.1 L332.3,444.9 L332.8,444.8 L333.3,444.6 L333.8,444.4 L334.3,444.3 L334.8,444.1 L335.3,443.9 L335.8,443.8 L336.3,443.6 L336.8,443.4 L337.3,443.2 L337.8,443.0 L338.3,442.8 L338.8,442.7 L339.3,442.5 L339.8,442.3 L340.3,442.1 L340.8,441.9 L341.3,441.6 L341.8,441.4 L342.3,441.2 L342.8,441.0 L343.3,440.8 L343.8,440.5 L344.3,440.3 L344.8,440.1 L345.3,439.8 L345.8,439.6 L346.3,439.3 L346.8,439.0 L347.3,438.8 L347.8,438.5 L348.3,438.2 L348.8,437.9 L349.3,437.6 L349.8,437.3 L350.3,437.0 L350.8,436.6 L351.3,436.3 L351.8,436.0 L352.3,435.7 L352.8,435.3 L353.3,435.0 L353.8,434.7 L354.3,434.3 L354.8,434.0 L355.3,433.6 L355.8,433.3 L356.3,432.9 L356.8,432.6 L357.3,432.2 L357.8,431.8 L358.3,431.4 L358.8,431.1 L359.3,430.7 L359.8,430.3 L360.3,429.9 L360.8,429.5 L361.3,429.1 L361.8,428.7 L362.3,428.3 L362.8,427.9 L363.3,427.5 L363.8,427.1 L364.3,426.7 L364.8,426.2 L365.3,425.8 L365.8,425.4 L366.3,425.0 L366.8,424.6 L367.3,424.1 L367.8,423.7 L368.3,423.3 L368.8,422.8 L369.3,422.4 L369.8,422.0 L370.3,421.5 L370.8,421.0 L371.3,420.6 L371.8,420.1 L372.3,419.6 L372.8,419.1 L373.3,418.5 L373.8,418.0 L374.3,417.4 L374.8,416.9 L375.3,416.3 L375.8,415.7 L376.3,415.1 L376.8,414.5 L377.3,413.9 L377.8,413.2 L378.3,412.6 L378.8,411.9 L379.3,411.2 L379.8,410.5 L380.3,409.7 L380.8,408.9 L381.3,408.1 L381.8,407.2 L382.3,406.3 L382.8,405.4 L383.3,404.5 L383.8,403.5 L384.3,402.6 L384.8,401.6 L385.3,400.7 L385.8,399.7 L386.3,398.7 L386.8,397.7 L387.3,396.6 L387.8,395.5 L388.3,394.3 L388.8,393.0 L389.3,391.7 L389.8,390.1 L390.3,388.5 L390.8,386.7 L391.3,384.8 L391.8,382.9 L392.3,380.8 L392.8,378.6 L393.3,376.2 L393.8,373.8 L394.3,371.4 L394.8,369.0 L395.3,366.7 L395.8,364.5 L396.3,362.3 L396.8,360.1 L397.3,357.9 L397.8,355.6 L398.3,353.4 L398.8,351.1" fill="none" stroke="#1485ff" stroke-width="1.6" stroke-dasharray="5.4 1.5" stroke-linejoin="round"/>
<path d="M86.8,519.9 L87.3,519.9 L87.8,519.9 L88.3,519.9 L88.8,519.9 L89.3,519.9 L89.8,519.9 L90.3,519.9 L90.8,519.9 L91.3,519.9 L91.8,519.9 L92.3,519.9 L92.8,519.9 L93.3,519.9 L93.8,519.9 L94.3,519.9 L94.8,519.9 L95.3,519.8 L95.8,519.8 L96.3,519.8 L96.8,519.8 L97.3,519.8 L97.8,519.8 L98.3,519.8 L98.8,519.8 L99.3,519.8 L99.8,519.8 L100.3,519.8 L100.8,519.7 L101.3,519.7 L101.8,519.7 L102.3,519.7 L102.8,519.7 L103.3,519.7 L103.8,519.7 L104.3,519.7 L104.8,519.6 L105.3,519.6 L105.8,519.6 L106.3,519.6 L106.8,519.6 L107.3,519.6 L107.8,519.5 L108.3,519.5 L108.8,519.5 L109.3,519.5 L109.8,519.5 L110.3,519.5 L110.8,519.4 L111.3,519.4 L111.8,519.4 L112.3,519.4 L112.8,519.4 L113.3,519.4 L113.8,519.3 L114.3,519.3 L114.8,519.3 L115.3,519.3 L115.8,519.3 L116.3,519.2 L116.8,519.2 L117.3,519.2 L117.8,519.2 L118.3,519.1 L118.8,519.1 L119.3,519.1 L119.8,519.1 L120.3,519.1 L120.8,519.0 L121.3,519.0 L121.8,519.0 L122.3,519.0 L122.8,518.9 L123.3,518.9 L123.8,518.9 L124.3,518.9 L124.8,518.8 L125.3,518.8 L125.8,518.8 L126.3,518.8 L126.8,518.7 L127.3,518.7 L127.8,518.7 L128.3,518.7 L128.8,518.6 L129.3,518.6 L129.8,518.6 L130.3,518.6 L130.8,518.5 L131.3,518.5 L131.8,518.5 L132.3,518.4 L132.8,518.4 L133.3,518.4 L133.8,518.3 L134.3,518.3 L134.8,518.3 L135.3,518.2 L135.8,518.2 L136.3,518.1 L136.8,518.1 L137.3,518.1 L137.8,518.0 L138.3,518.0 L138.8,517.9 L139.3,517.8 L139.8,517.8 L140.3,517.7 L140.8,517.7 L141.3,517.6 L141.8,517.5 L142.3,517.5 L142.8,517.4 L143.3,517.3 L143.8,517.2 L144.3,517.2 L144.8,517.1 L145.3,517.0 L145.8,516.9 L146.3,516.8 L146.8,516.7 L147.3,516.6 L147.8,516.5 L148.3,516.4 L148.8,516.3 L149.3,516.1 L149.8,516.0 L150.3,515.8 L150.8,515.6 L151.3,515.4 L151.8,515.1 L152.3,514.9 L152.8,514.6 L153.3,514.3 L153.8,513.9 L154.3,513.4 L154.8,512.8 L155.3,511.9 L155.8,510.8 L156.3,509.6 L156.8,508.2 L157.3,506.5 L157.8,503.8 L158.3,500.2 L158.8,496.6 L159.3,492.9 L159.8,488.6 L160.3,485.0 L160.8,483.3 L161.3,483.4 L161.8,484.2 L162.3,485.3 L162.8,486.6 L163.3,487.9 L163.8,489.1 L164.3,490.0 L164.8,490.8 L165.3,491.6 L165.8,492.4 L166.3,493.0 L166.8,493.6 L167.3,494.1 L167.8,494.4 L168.3,494.6 L168.8,494.9 L169.3,495.1 L169.8,495.3 L170.3,495.5 L170.8,495.7 L171.3,495.8 L171.8,496.0 L172.3,496.1 L172.8,496.2 L173.3,496.3 L173.8,496.4 L174.3,496.5 L174.8,496.6 L175.3,496.6 L175.8,496.7 L176.3,496.7 L176.8,496.8 L177.3,496.9 L177.8,496.9 L178.3,497.0 L178.8,497.0 L179.3,497.0 L179.8,497.1 L180.3,497.1 L180.8,497.1 L181.3,497.2 L181.8,497.2 L182.3,497.2 L182.8,497.2 L183.3,497.2 L183.8,497.2 L184.3,497.2 L184.8,497.2 L185.3,497.2 L185.8,497.2 L186.3,497.2 L186.8,497.2 L187.3,497.2 L187.8,497.1 L188.3,497.1 L188.8,497.1 L189.3,497.1 L189.8,497.0 L190.3,497.0 L190.8,497.0 L191.3,496.9 L191.8,496.9 L192.3,496.8 L192.8,496.8 L193.3,496.7 L193.8,496.7 L194.3,496.6 L194.8,496.6 L195.3,496.5 L195.8,496.5 L196.3,496.4 L196.8,496.4 L197.3,496.3 L197.8,496.2 L198.3,496.2 L198.8,496.1 L199.3,496.1 L199.8,496.0 L200.3,495.9 L200.8,495.9 L201.3,495.8 L201.8,495.7 L202.3,495.7 L202.8,495.6 L203.3,495.5 L203.8,495.4 L204.3,495.3 L204.8,495.2 L205.3,495.1 L205.8,495.0 L206.3,494.9 L206.8,494.7 L207.3,494.6 L207.8,494.4 L208.3,494.3 L208.8,494.1 L209.3,493.9 L209.8,493.7 L210.3,493.4 L210.8,493.1 L211.3,492.6 L211.8,492.1 L212.3,491.6 L212.8,491.1 L213.3,490.4 L213.8,489.7 L214.3,489.2 L214.8,488.7 L215.3,488.2 L215.8,487.8 L216.3,487.5 L216.8,487.2 L217.3,487.1 L217.8,486.9 L218.3,486.8 L218.8,486.7 L219.3,486.6 L219.8,486.5 L220.3,486.4 L220.8,486.4 L221.3,486.3 L221.8,486.2 L222.3,486.2 L222.8,486.1 L223.3,486.0 L223.8,486.0 L224.3,485.9 L224.8,485.9 L225.3,485.8 L225.8,485.8 L226.3,485.7 L226.8,485.7 L227.3,485.6 L227.8,485.6 L228.3,485.5 L228.8,485.5 L229.3,485.5 L229.8,485.4 L230.3,485.4 L230.8,485.3 L231.3,485.3 L231.8,485.3 L232.3,485.2 L232.8,485.2 L233.3,485.2 L233.8,485.1 L234.3,485.1 L234.8,485.1 L235.3,485.0 L235.8,485.0 L236.3,485.0 L236.8,485.0 L237.3,484.9 L237.8,484.9 L238.3,484.9 L238.8,484.8 L239.3,484.8 L239.8,484.8 L240.3,484.8 L240.8,484.7 L241.3,484.7 L241.8,484.7 L242.3,484.6 L242.8,484.6 L243.3,484.6 L243.8,484.6 L244.3,484.5 L244.8,484.5 L245.3,484.5 L245.8,484.4 L246.3,484.4 L246.8,484.4 L247.3,484.3 L247.8,484.3 L248.3,484.3 L248.8,484.2 L249.3,484.2 L249.8,484.1 L250.3,484.1 L250.8,484.1 L251.3,484.0 L251.8,484.0 L252.3,483.9 L252.8,483.9 L253.3,483.8 L253.8,483.8 L254.3,483.7 L254.8,483.7 L255.3,483.6 L255.8,483.6 L256.3,483.5 L256.8,483.5 L257.3,483.4 L257.8,483.3 L258.3,483.3 L258.8,483.2 L259.3,483.2 L259.8,483.1 L260.3,483.0 L260.8,483.0 L261.3,482.9 L261.8,482.8 L262.3,482.7 L262.8,482.7 L263.3,482.6 L263.8,482.5 L264.3,482.4 L264.8,482.3 L265.3,482.2 L265.8,482.1 L266.3,482.1 L266.8,482.0 L267.3,481.9 L267.8,481.8 L268.3,481.7 L268.8,481.6 L269.3,481.4 L269.8,481.3 L270.3,481.1 L270.8,481.0 L271.3,480.8 L271.8,480.6 L272.3,480.3 L272.8,480.0 L273.3,479.6 L273.8,479.1 L274.3,478.6 L274.8,478.0 L275.3,477.4 L275.8,476.2 L276.3,474.8 L276.8,473.6 L277.3,473.0 L277.8,473.1 L278.3,473.3 L278.8,473.6 L279.3,473.9 L279.8,474.2 L280.3,474.4 L280.8,474.5 L281.3,474.6 L281.8,474.7 L282.3,474.8 L282.8,474.9 L283.3,475.0 L283.8,475.1 L284.3,475.2 L284.8,475.2 L285.3,475.3 L285.8,475.4 L286.3,475.4 L286.8,475.5 L287.3,475.6 L287.8,475.6 L288.3,475.6 L288.8,475.7 L289.3,475.7 L289.8,475.7 L290.3,475.8 L290.8,475.8 L291.3,475.8 L291.8,475.8 L292.3,475.8 L292.8,475.8 L293.3,475.8 L293.8,475.7 L294.3,475.7 L294.8,475.7 L295.3,475.7 L295.8,475.6 L296.3,475.6 L296.8,475.6 L297.3,475.5 L297.8,475.5 L298.3,475.4 L298.8,475.4 L299.3,475.3 L299.8,475.3 L300.3,475.2 L300.8,475.2 L301.3,475.1 L301.8,475.0 L302.3,475.0 L302.8,474.9 L303.3,474.9 L303.8,474.8 L304.3,474.7 L304.8,474.7 L305.3,474.6 L305.8,474.5 L306.3,474.4 L306.8,474.4 L307.3,474.3 L307.8,474.2 L308.3,474.2 L308.8,474.1 L309.3,474.0 L309.8,474.0 L310.3,473.9 L310.8,473.8 L311.3,473.8 L311.8,473.7 L312.3,473.6 L312.8,473.6 L313.3,473.5 L313.8,473.4 L314.3,473.3 L314.8,473.3 L315.3,473.2 L315.8,473.1 L316.3,473.0 L316.8,472.9 L317.3,472.8 L317.8,472.8 L318.3,472.7 L318.8,472.6 L319.3,472.5 L319.8,472.4 L320.3,472.3 L320.8,472.2 L321.3,472.1 L321.8,472.0 L322.3,471.9 L322.8,471.8 L323.3,471.7 L323.8,471.6 L324.3,471.5 L324.8,471.4 L325.3,471.3 L325.8,471.2 L326.3,471.1 L326.8,471.0 L327.3,470.9 L327.8,470.7 L328.3,470.6 L328.8,470.5 L329.3,470.4 L329.8,470.3 L330.3,470.2 L330.8,470.0 L331.3,469.9 L331.8,469.8 L332.3,469.7 L332.8,469.5 L333.3,469.4 L333.8,469.3 L334.3,469.2 L334.8,469.0 L335.3,468.9 L335.8,468.8 L336.3,468.6 L336.8,468.5 L337.3,468.3 L337.8,468.1 L338.3,468.0 L338.8,467.8 L339.3,467.6 L339.8,467.4 L340.3,467.2 L340.8,467.1 L341.3,466.9 L341.8,466.7 L342.3,466.5 L342.8,466.3 L343.3,466.1 L343.8,465.9 L344.3,465.7 L344.8,465.6 L345.3,465.4 L345.8,465.2 L346.3,465.1 L346.8,464.9 L347.3,464.7 L347.8,464.6 L348.3,464.3 L348.8,464.1 L349.3,463.7 L349.8,463.2 L350.3,462.6 L350.8,462.1 L351.3,461.7 L351.8,461.3 L352.3,461.0 L352.8,460.6 L353.3,460.3 L353.8,460.1 L354.3,459.8 L354.8,459.5 L355.3,459.3 L355.8,459.0 L356.3,458.7 L356.8,458.5 L357.3,458.2 L357.8,458.0 L358.3,457.7 L358.8,457.4 L359.3,457.1 L359.8,456.8 L360.3,456.5 L360.8,456.2 L361.3,455.9 L361.8,455.6 L362.3,455.3 L362.8,455.0 L363.3,454.7 L363.8,454.3 L364.3,454.0 L364.8,453.7 L365.3,453.4 L365.8,453.0 L366.3,452.7 L366.8,452.4 L367.3,452.1 L367.8,451.7 L368.3,451.4 L368.8,451.0 L369.3,450.7 L369.8,450.3 L370.3,450.0 L370.8,449.6 L371.3,449.2 L371.8,448.8 L372.3,448.4 L372.8,448.0 L373.3,447.6 L373.8,447.2 L374.3,446.7 L374.8,446.2 L375.3,445.8 L375.8,445.3 L376.3,444.8 L376.8,444.3 L377.3,443.7 L377.8,443.2 L378.3,442.6 L378.8,442.1 L379.3,441.5 L379.8,440.9 L380.3,440.2 L380.8,439.6 L381.3,438.9 L381.8,438.3 L382.3,437.6 L382.8,436.8 L383.3,436.1 L383.8,435.3 L384.3,434.5 L384.8,433.7 L385.3,432.8 L385.8,431.9 L386.3,431.0 L386.8,430.1 L387.3,429.0 L387.8,428.0 L388.3,426.8 L388.8,425.6 L389.3,424.4 L389.8,423.2 L390.3,421.9 L390.8,420.6 L391.3,419.2 L391.8,417.9 L392.3,416.5 L392.8,415.1 L393.3,413.7 L393.8,412.2 L394.3,410.6 L394.8,409.1 L395.3,407.5 L395.8,405.8 L396.3,404.1 L396.8,402.4 L397.3,400.5 L397.8,398.6 L398.3,396.7 L398.8,394.8" fill="none" stroke="#00c000" stroke-width="1.6" stroke-dasharray="5.4 1.3 1.5 1.3" stroke-linejoin="round"/>
<path d="M86.8,521.3 L87.3,521.3 L87.8,521.3 L88.3,521.3 L88.8,521.3 L89.3,521.3 L89.8,521.3 L90.3,521.3 L90.8,521.3 L91.3,521.3 L91.8,521.3 L92.3,521.3 L92.8,521.3 L93.3,521.3 L93.8,521.3 L94.3,521.2 L94.8,521.2 L95.3,521.2 L95.8,521.2 L96.3,521.2 L96.8,521.2 L97.3,521.2 L97.8,521.2 L98.3,521.2 L98.8,521.2 L99.3,521.2 L99.8,521.2 L100.3,521.2 L100.8,521.2 L101.3,521.2 L101.8,521.1 L102.3,521.1 L102.8,521.1 L103.3,521.1 L103.8,521.1 L104.3,521.1 L104.8,521.1 L105.3,521.1 L105.8,521.1 L106.3,521.1 L106.8,521.1 L107.3,521.0 L107.8,521.0 L108.3,521.0 L108.8,521.0 L109.3,521.0 L109.8,521.0 L110.3,521.0 L110.8,521.0 L111.3,520.9 L111.8,520.9 L112.3,520.9 L112.8,520.9 L113.3,520.9 L113.8,520.9 L114.3,520.9 L114.8,520.9 L115.3,520.8 L115.8,520.8 L116.3,520.8 L116.8,520.8 L117.3,520.8 L117.8,520.8 L118.3,520.8 L118.8,520.7 L119.3,520.7 L119.8,520.7 L120.3,520.7 L120.8,520.7 L121.3,520.7 L121.8,520.7 L122.3,520.6 L122.8,520.6 L123.3,520.6 L123.8,520.6 L124.3,520.6 L124.8,520.6 L125.3,520.5 L125.8,520.5 L126.3,520.5 L126.8,520.5 L127.3,520.5 L127.8,520.5 L128.3,520.4 L128.8,520.4 L129.3,520.4 L129.8,520.4 L130.3,520.4 L130.8,520.4 L131.3,520.4 L131.8,520.3 L132.3,520.3 L132.8,520.3 L133.3,520.3 L133.8,520.3 L134.3,520.2 L134.8,520.2 L135.3,520.2 L135.8,520.2 L136.3,520.2 L136.8,520.1 L137.3,520.1 L137.8,520.1 L138.3,520.1 L138.8,520.0 L139.3,520.0 L139.8,520.0 L140.3,520.0 L140.8,519.9 L141.3,519.9 L141.8,519.9 L142.3,519.8 L142.8,519.8 L143.3,519.8 L143.8,519.7 L144.3,519.7 L144.8,519.6 L145.3,519.6 L145.8,519.6 L146.3,519.5 L146.8,519.5 L147.3,519.4 L147.8,519.3 L148.3,519.3 L148.8,519.2 L149.3,519.1 L149.8,519.0 L150.3,518.9 L150.8,518.8 L151.3,518.7 L151.8,518.5 L152.3,518.4 L152.8,518.2 L153.3,518.0 L153.8,517.8 L154.3,517.6 L154.8,517.2 L155.3,516.8 L155.8,516.2 L156.3,515.6 L156.8,514.8 L157.3,514.0 L157.8,512.7 L158.3,510.9 L158.8,509.2 L159.3,507.4 L159.8,505.4 L160.3,503.8 L160.8,503.0 L161.3,503.0 L161.8,503.3 L162.3,503.7 L162.8,504.3 L163.3,504.9 L163.8,505.5 L164.3,506.1 L164.8,506.5 L165.3,506.9 L165.8,507.1 L166.3,507.4 L166.8,507.6 L167.3,507.8 L167.8,508.0 L168.3,508.2 L168.8,508.4 L169.3,508.6 L169.8,508.7 L170.3,508.8 L170.8,508.9 L171.3,509.0 L171.8,509.1 L172.3,509.1 L172.8,509.2 L173.3,509.2 L173.8,509.2 L174.3,509.3 L174.8,509.3 L175.3,509.3 L175.8,509.4 L176.3,509.4 L176.8,509.4 L177.3,509.4 L177.8,509.4 L178.3,509.5 L178.8,509.5 L179.3,509.5 L179.8,509.5 L180.3,509.5 L180.8,509.5 L181.3,509.5 L181.8,509.6 L182.3,509.6 L182.8,509.6 L183.3,509.6 L183.8,509.6 L184.3,509.6 L184.8,509.6 L185.3,509.6 L185.8,509.6 L186.3,509.6 L186.8,509.6 L187.3,509.6 L187.8,509.6 L188.3,509.6 L188.8,509.6 L189.3,509.6 L189.8,509.6 L190.3,509.6 L190.8,509.6 L191.3,509.5 L191.8,509.5 L192.3,509.5 L192.8,509.5 L193.3,509.5 L193.8,509.5 L194.3,509.4 L194.8,509.4 L195.3,509.4 L195.8,509.4 L196.3,509.3 L196.8,509.3 L197.3,509.3 L197.8,509.2 L198.3,509.2 L198.8,509.1 L199.3,509.1 L199.8,509.1 L200.3,509.0 L200.8,509.0 L201.3,508.9 L201.8,508.9 L202.3,508.8 L202.8,508.7 L203.3,508.7 L203.8,508.6 L204.3,508.6 L204.8,508.5 L205.3,508.4 L205.8,508.4 L206.3,508.3 L206.8,508.2 L207.3,508.2 L207.8,508.1 L208.3,508.0 L208.8,507.9 L209.3,507.8 L209.8,507.6 L210.3,507.4 L210.8,507.2 L211.3,506.9 L211.8,506.7 L212.3,506.4 L212.8,506.1 L213.3,505.8 L213.8,505.5 L214.3,505.2 L214.8,505.0 L215.3,504.8 L215.8,504.7 L216.3,504.5 L216.8,504.4 L217.3,504.3 L217.8,504.2 L218.3,504.1 L218.8,504.0 L219.3,503.9 L219.8,503.9 L220.3,503.8 L220.8,503.8 L221.3,503.8 L221.8,503.7 L222.3,503.7 L222.8,503.6 L223.3,503.6 L223.8,503.6 L224.3,503.6 L224.8,503.5 L225.3,503.5 L225.8,503.5 L226.3,503.4 L226.8,503.4 L227.3,503.4 L227.8,503.4 L228.3,503.3 L228.8,503.3 L229.3,503.3 L229.8,503.3 L230.3,503.3 L230.8,503.2 L231.3,503.2 L231.8,503.2 L232.3,503.2 L232.8,503.2 L233.3,503.2 L233.8,503.1 L234.3,503.1 L234.8,503.1 L235.3,503.1 L235.8,503.1 L236.3,503.1 L236.8,503.0 L237.3,503.0 L237.8,503.0 L238.3,503.0 L238.8,503.0 L239.3,503.0 L239.8,503.0 L240.3,502.9 L240.8,502.9 L241.3,502.9 L241.8,502.9 L242.3,502.9 L242.8,502.9 L243.3,502.9 L243.8,502.8 L244.3,502.8 L244.8,502.8 L245.3,502.8 L245.8,502.8 L246.3,502.8 L246.8,502.8 L247.3,502.7 L247.8,502.7 L248.3,502.7 L248.8,502.7 L249.3,502.7 L249.8,502.6 L250.3,502.6 L250.8,502.6 L251.3,502.6 L251.8,502.6 L252.3,502.5 L252.8,502.5 L253.3,502.5 L253.8,502.5 L254.3,502.4 L254.8,502.4 L255.3,502.4 L255.8,502.3 L256.3,502.3 L256.8,502.3 L257.3,502.2 L257.8,502.2 L258.3,502.2 L258.8,502.2 L259.3,502.1 L259.8,502.1 L260.3,502.0 L260.8,502.0 L261.3,502.0 L261.8,501.9 L262.3,501.9 L262.8,501.8 L263.3,501.8 L263.8,501.7 L264.3,501.6 L264.8,501.6 L265.3,501.5 L265.8,501.4 L266.3,501.3 L266.8,501.2 L267.3,501.1 L267.8,500.9 L268.3,500.7 L268.8,500.5 L269.3,500.3 L269.8,500.1 L270.3,499.8 L270.8,499.5 L271.3,499.2 L271.8,498.7 L272.3,498.3 L272.8,497.8 L273.3,497.2 L273.8,496.5 L274.3,495.9 L274.8,494.9 L275.3,493.7 L275.8,492.4 L276.3,491.0 L276.8,489.2 L277.3,488.1 L277.8,488.3 L278.3,488.9 L278.8,489.5 L279.3,490.1 L279.8,490.6 L280.3,491.1 L280.8,491.5 L281.3,491.8 L281.8,492.1 L282.3,492.4 L282.8,492.7 L283.3,493.0 L283.8,493.2 L284.3,493.5 L284.8,493.7 L285.3,493.9 L285.8,494.1 L286.3,494.3 L286.8,494.4 L287.3,494.5 L287.8,494.6 L288.3,494.7 L288.8,494.8 L289.3,494.9 L289.8,495.0 L290.3,495.1 L290.8,495.1 L291.3,495.2 L291.8,495.3 L292.3,495.3 L292.8,495.4 L293.3,495.5 L293.8,495.5 L294.3,495.6 L294.8,495.6 L295.3,495.7 L295.8,495.7 L296.3,495.8 L296.8,495.8 L297.3,495.8 L297.8,495.9 L298.3,495.9 L298.8,495.9 L299.3,495.9 L299.8,496.0 L300.3,496.0 L300.8,496.0 L301.3,496.0 L301.8,496.0 L302.3,495.9 L302.8,495.9 L303.3,495.9 L303.8,495.9 L304.3,495.9 L304.8,495.9 L305.3,495.8 L305.8,495.8 L306.3,495.8 L306.8,495.7 L307.3,495.7 L307.8,495.7 L308.3,495.6 L308.8,495.6 L309.3,495.6 L309.8,495.5 L310.3,495.5 L310.8,495.4 L311.3,495.4 L311.8,495.3 L312.3,495.3 L312.8,495.3 L313.3,495.2 L313.8,495.2 L314.3,495.1 L314.8,495.1 L315.3,495.0 L315.8,495.0 L316.3,494.9 L316.8,494.9 L317.3,494.8 L317.8,494.8 L318.3,494.8 L318.8,494.7 L319.3,494.7 L319.8,494.6 L320.3,494.6 L320.8,494.6 L321.3,494.5 L321.8,494.5 L322.3,494.4 L322.8,494.4 L323.3,494.4 L323.8,494.3 L324.3,494.3 L324.8,494.2 L325.3,494.2 L325.8,494.2 L326.3,494.1 L326.8,494.1 L327.3,494.0 L327.8,494.0 L328.3,493.9 L328.8,493.9 L329.3,493.9 L329.8,493.8 L330.3,493.8 L330.8,493.7 L331.3,493.7 L331.8,493.6 L332.3,493.5 L332.8,493.5 L333.3,493.4 L333.8,493.4 L334.3,493.3 L334.8,493.2 L335.3,493.2 L335.8,493.1 L336.3,493.0 L336.8,492.9 L337.3,492.9 L337.8,492.8 L338.3,492.7 L338.8,492.6 L339.3,492.5 L339.8,492.4 L340.3,492.2 L340.8,492.1 L341.3,492.0 L341.8,491.9 L342.3,491.7 L342.8,491.6 L343.3,491.4 L343.8,491.3 L344.3,491.1 L344.8,491.0 L345.3,490.8 L345.8,490.6 L346.3,490.3 L346.8,490.1 L347.3,489.8 L347.8,489.4 L348.3,489.1 L348.8,488.7 L349.3,488.3 L349.8,487.7 L350.3,487.0 L350.8,486.3 L351.3,485.7 L351.8,485.2 L352.3,484.7 L352.8,484.4 L353.3,484.0 L353.8,483.7 L354.3,483.4 L354.8,483.1 L355.3,482.8 L355.8,482.5 L356.3,482.3 L356.8,482.0 L357.3,481.8 L357.8,481.5 L358.3,481.3 L358.8,481.0 L359.3,480.7 L359.8,480.4 L360.3,480.2 L360.8,479.9 L361.3,479.7 L361.8,479.4 L362.3,479.2 L362.8,478.9 L363.3,478.7 L363.8,478.4 L364.3,478.2 L364.8,477.9 L365.3,477.6 L365.8,477.4 L366.3,477.1 L366.8,476.8 L367.3,476.5 L367.8,476.3 L368.3,476.0 L368.8,475.7 L369.3,475.4 L369.8,475.1 L370.3,474.8 L370.8,474.5 L371.3,474.2 L371.8,473.8 L372.3,473.5 L372.8,473.2 L373.3,472.8 L373.8,472.5 L374.3,472.1 L374.8,471.7 L375.3,471.3 L375.8,471.0 L376.3,470.6 L376.8,470.1 L377.3,469.7 L377.8,469.3 L378.3,468.9 L378.8,468.4 L379.3,468.0 L379.8,467.5 L380.3,467.0 L380.8,466.5 L381.3,466.0 L381.8,465.5 L382.3,464.9 L382.8,464.4 L383.3,463.8 L383.8,463.2 L384.3,462.7 L384.8,462.1 L385.3,461.5 L385.8,460.9 L386.3,460.3 L386.8,459.6 L387.3,459.0 L387.8,458.4 L388.3,457.8 L388.8,457.1 L389.3,456.4 L389.8,455.7 L390.3,454.9 L390.8,454.1 L391.3,453.2 L391.8,452.3 L392.3,451.3 L392.8,450.3 L393.3,449.2 L393.8,448.0 L394.3,446.7 L394.8,445.3 L395.3,443.8 L395.8,442.3 L396.3,440.8 L396.8,439.3 L397.3,437.8 L397.8,436.2 L398.3,434.5 L398.8,432.7" fill="none" stroke="#ffa500" stroke-width="1.6" stroke-dasharray="5.4 1.4 1.4 1.4 1.4 1.4" stroke-linejoin="round"/>
<path d="M86.8,521.7 L87.3,521.7 L87.8,521.7 L88.3,521.7 L88.8,521.7 L89.3,521.7 L89.8,521.7 L90.3,521.7 L90.8,521.7 L91.3,521.7 L91.8,521.7 L92.3,521.7 L92.8,521.7 L93.3,521.7 L93.8,521.7 L94.3,521.7 L94.8,521.7 L95.3,521.7 L95.8,521.7 L96.3,521.7 L96.8,521.7 L97.3,521.7 L97.8,521.7 L98.3,521.7 L98.8,521.7 L99.3,521.7 L99.8,521.7 L100.3,521.7 L100.8,521.7 L101.3,521.7 L101.8,521.7 L102.3,521.7 L102.8,521.7 L103.3,521.7 L103.8,521.7 L104.3,521.7 L104.8,521.7 L105.3,521.7 L105.8,521.7 L106.3,521.7 L106.8,521.7 L107.3,521.7 L107.8,521.7 L108.3,521.7 L108.8,521.7 L109.3,521.7 L109.8,521.7 L110.3,521.7 L110.8,521.7 L111.3,521.7 L111.8,521.7 L112.3,521.7 L112.8,521.7 L113.3,521.7 L113.8,521.7 L114.3,521.7 L114.8,521.7 L115.3,521.7 L115.8,521.7 L116.3,521.7 L116.8,521.7 L117.3,521.7 L117.8,521.7 L118.3,521.6 L118.8,521.6 L119.3,521.6 L119.8,521.6 L120.3,521.6 L120.8,521.6 L121.3,521.6 L121.8,521.6 L122.3,521.6 L122.8,521.6 L123.3,521.6 L123.8,521.6 L124.3,521.6 L124.8,521.6 L125.3,521.6 L125.8,521.6 L126.3,521.6 L126.8,521.6 L127.3,521.6 L127.8,521.6 L128.3,521.6 L128.8,521.6 L129.3,521.6 L129.8,521.6 L130.3,521.6 L130.8,521.6 L131.3,521.6 L131.8,521.6 L132.3,521.6 L132.8,521.6 L133.3,521.5 L133.8,521.5 L134.3,521.5 L134.8,521.5 L135.3,521.5 L135.8,521.5 L136.3,521.5 L136.8,521.5 L137.3,521.5 L137.8,521.5 L138.3,521.5 L138.8,521.5 L139.3,521.5 L139.8,521.5 L140.3,521.5 L140.8,521.5 L141.3,521.5 L141.8,521.5 L142.3,521.5 L142.8,521.5 L143.3,521.5 L143.8,521.5 L144.3,521.5 L144.8,521.5 L145.3,521.4 L145.8,521.4 L146.3,521.4 L146.8,521.4 L147.3,521.4 L147.8,521.4 L148.3,521.4 L148.8,521.4 L149.3,521.4 L149.8,521.4 L150.3,521.4 L150.8,521.4 L151.3,521.4 L151.8,521.4 L152.3,521.4 L152.8,521.4 L153.3,521.4 L153.8,521.4 L154.3,521.4 L154.8,521.4 L155.3,521.4 L155.8,521.4 L156.3,521.3 L156.8,521.3 L157.3,521.3 L157.8,521.3 L158.3,521.3 L158.8,521.3 L159.3,521.3 L159.8,521.3 L160.3,521.3 L160.8,521.3 L161.3,521.3 L161.8,521.3 L162.3,521.3 L162.8,521.3 L163.3,521.3 L163.8,521.3 L164.3,521.3 L164.8,521.3 L165.3,521.3 L165.8,521.3 L166.3,521.2 L166.8,521.2 L167.3,521.2 L167.8,521.2 L168.3,521.2 L168.8,521.2 L169.3,521.2 L169.8,521.2 L170.3,521.2 L170.8,521.2 L171.3,521.2 L171.8,521.2 L172.3,521.2 L172.8,521.2 L173.3,521.2 L173.8,521.2 L174.3,521.2 L174.8,521.2 L175.3,521.2 L175.8,521.2 L176.3,521.1 L176.8,521.1 L177.3,521.1 L177.8,521.1 L178.3,521.1 L178.8,521.1 L179.3,521.1 L179.8,521.1 L180.3,521.1 L180.8,521.1 L181.3,521.1 L181.8,521.1 L182.3,521.1 L182.8,521.1 L183.3,521.1 L183.8,521.1 L184.3,521.1 L184.8,521.1 L185.3,521.1 L185.8,521.0 L186.3,521.0 L186.8,521.0 L187.3,521.0 L187.8,521.0 L188.3,521.0 L188.8,521.0 L189.3,521.0 L189.8,521.0 L190.3,521.0 L190.8,521.0 L191.3,521.0 L191.8,521.0 L192.3,521.0 L192.8,521.0 L193.3,521.0 L193.8,520.9 L194.3,520.9 L194.8,520.9 L195.3,520.9 L195.8,520.9 L196.3,520.9 L196.8,520.9 L197.3,520.9 L197.8,520.9 L198.3,520.9 L198.8,520.9 L199.3,520.9 L199.8,520.9 L200.3,520.8 L200.8,520.8 L201.3,520.8 L201.8,520.8 L202.3,520.8 L202.8,520.8 L203.3,520.8 L203.8,520.8 L204.3,520.8 L204.8,520.8 L205.3,520.8 L205.8,520.8 L206.3,520.7 L206.8,520.7 L207.3,520.7 L207.8,520.7 L208.3,520.7 L208.8,520.7 L209.3,520.7 L209.8,520.7 L210.3,520.7 L210.8,520.7 L211.3,520.6 L211.8,520.6 L212.3,520.6 L212.8,520.6 L213.3,520.6 L213.8,520.6 L214.3,520.6 L214.8,520.6 L215.3,520.5 L215.8,520.5 L216.3,520.5 L216.8,520.5 L217.3,520.5 L217.8,520.5 L218.3,520.5 L218.8,520.4 L219.3,520.4 L219.8,520.4 L220.3,520.4 L220.8,520.4 L221.3,520.4 L221.8,520.3 L222.3,520.3 L222.8,520.3 L223.3,520.3 L223.8,520.3 L224.3,520.2 L224.8,520.2 L225.3,520.2 L225.8,520.2 L226.3,520.2 L226.8,520.1 L227.3,520.1 L227.8,520.1 L228.3,520.1 L228.8,520.0 L229.3,520.0 L229.8,520.0 L230.3,520.0 L230.8,520.0 L231.3,519.9 L231.8,519.9 L232.3,519.9 L232.8,519.9 L233.3,519.9 L233.8,519.8 L234.3,519.8 L234.8,519.8 L235.3,519.8 L235.8,519.8 L236.3,519.7 L236.8,519.7 L237.3,519.7 L237.8,519.7 L238.3,519.7 L238.8,519.6 L239.3,519.6 L239.8,519.6 L240.3,519.6 L240.8,519.6 L241.3,519.6 L241.8,519.5 L242.3,519.5 L242.8,519.5 L243.3,519.5 L243.8,519.5 L244.3,519.5 L244.8,519.5 L245.3,519.4 L245.8,519.4 L246.3,519.4 L246.8,519.4 L247.3,519.4 L247.8,519.4 L248.3,519.4 L248.8,519.4 L249.3,519.4 L249.8,519.4 L250.3,519.4 L250.8,519.4 L251.3,519.4 L251.8,519.3 L252.3,519.3 L252.8,519.3 L253.3,519.3 L253.8,519.3 L254.3,519.3 L254.8,519.3 L255.3,519.3 L255.8,519.2 L256.3,519.2 L256.8,519.1 L257.3,519.1 L257.8,519.0 L258.3,519.0 L258.8,518.9 L259.3,518.8 L259.8,518.7 L260.3,518.6 L260.8,518.5 L261.3,518.4 L261.8,518.3 L262.3,518.1 L262.8,518.0 L263.3,517.9 L263.8,517.7 L264.3,517.6 L264.8,517.4 L265.3,517.3 L265.8,517.1 L266.3,517.0 L266.8,516.8 L267.3,516.5 L267.8,516.3 L268.3,516.0 L268.8,515.7 L269.3,515.4 L269.8,515.0 L270.3,514.6 L270.8,514.1 L271.3,513.7 L271.8,513.1 L272.3,512.6 L272.8,511.9 L273.3,510.9 L273.8,509.8 L274.3,508.4 L274.8,507.0 L275.3,505.6 L275.8,503.5 L276.3,501.2 L276.8,499.3 L277.3,498.4 L277.8,498.6 L278.3,499.4 L278.8,500.5 L279.3,501.6 L279.8,502.5 L280.3,503.2 L280.8,504.0 L281.3,504.7 L281.8,505.4 L282.3,506.1 L282.8,506.7 L283.3,507.3 L283.8,507.8 L284.3,508.2 L284.8,508.6 L285.3,509.0 L285.8,509.3 L286.3,509.7 L286.8,510.0 L287.3,510.3 L287.8,510.6 L288.3,510.8 L288.8,511.1 L289.3,511.3 L289.8,511.5 L290.3,511.7 L290.8,511.9 L291.3,512.0 L291.8,512.1 L292.3,512.3 L292.8,512.4 L293.3,512.5 L293.8,512.6 L294.3,512.7 L294.8,512.8 L295.3,512.9 L295.8,513.0 L296.3,513.1 L296.8,513.2 L297.3,513.3 L297.8,513.4 L298.3,513.4 L298.8,513.5 L299.3,513.6 L299.8,513.6 L300.3,513.7 L300.8,513.7 L301.3,513.7 L301.8,513.7 L302.3,513.8 L302.8,513.8 L303.3,513.8 L303.8,513.8 L304.3,513.8 L304.8,513.8 L305.3,513.7 L305.8,513.7 L306.3,513.7 L306.8,513.7 L307.3,513.7 L307.8,513.7 L308.3,513.7 L308.8,513.7 L309.3,513.7 L309.8,513.7 L310.3,513.7 L310.8,513.7 L311.3,513.6 L311.8,513.6 L312.3,513.6 L312.8,513.6 L313.3,513.6 L313.8,513.6 L314.3,513.6 L314.8,513.5 L315.3,513.5 L315.8,513.5 L316.3,513.5 L316.8,513.5 L317.3,513.5 L317.8,513.4 L318.3,513.4 L318.8,513.4 L319.3,513.4 L319.8,513.4 L320.3,513.3 L320.8,513.3 L321.3,513.3 L321.8,513.3 L322.3,513.2 L322.8,513.2 L323.3,513.2 L323.8,513.1 L324.3,513.1 L324.8,513.0 L325.3,513.0 L325.8,513.0 L326.3,512.9 L326.8,512.9 L327.3,512.8 L327.8,512.8 L328.3,512.7 L328.8,512.7 L329.3,512.6 L329.8,512.5 L330.3,512.5 L330.8,512.4 L331.3,512.4 L331.8,512.3 L332.3,512.3 L332.8,512.2 L333.3,512.1 L333.8,512.1 L334.3,512.0 L334.8,511.9 L335.3,511.9 L335.8,511.8 L336.3,511.8 L336.8,511.7 L337.3,511.6 L337.8,511.5 L338.3,511.5 L338.8,511.4 L339.3,511.3 L339.8,511.2 L340.3,511.1 L340.8,511.0 L341.3,510.9 L341.8,510.8 L342.3,510.7 L342.8,510.6 L343.3,510.5 L343.8,510.4 L344.3,510.3 L344.8,510.1 L345.3,510.0 L345.8,509.9 L346.3,509.7 L346.8,509.6 L347.3,509.4 L347.8,509.2 L348.3,509.0 L348.8,508.7 L349.3,508.3 L349.8,507.5 L350.3,506.6 L350.8,505.6 L351.3,504.8 L351.8,504.1 L352.3,503.4 L352.8,502.8 L353.3,502.3 L353.8,501.8 L354.3,501.5 L354.8,501.1 L355.3,500.8 L355.8,500.5 L356.3,500.2 L356.8,499.9 L357.3,499.6 L357.8,499.4 L358.3,499.1 L358.8,498.9 L359.3,498.6 L359.8,498.4 L360.3,498.2 L360.8,498.0 L361.3,497.8 L361.8,497.6 L362.3,497.4 L362.8,497.3 L363.3,497.1 L363.8,496.9 L364.3,496.7 L364.8,496.5 L365.3,496.2 L365.8,496.0 L366.3,495.7 L366.8,495.5 L367.3,495.2 L367.8,494.9 L368.3,494.6 L368.8,494.3 L369.3,494.0 L369.8,493.7 L370.3,493.4 L370.8,493.1 L371.3,492.7 L371.8,492.4 L372.3,492.1 L372.8,491.8 L373.3,491.5 L373.8,491.1 L374.3,490.8 L374.8,490.5 L375.3,490.2 L375.8,489.8 L376.3,489.5 L376.8,489.1 L377.3,488.8 L377.8,488.4 L378.3,488.0 L378.8,487.7 L379.3,487.3 L379.8,486.8 L380.3,486.4 L380.8,486.0 L381.3,485.5 L381.8,485.1 L382.3,484.6 L382.8,484.1 L383.3,483.6 L383.8,483.1 L384.3,482.6 L384.8,482.0 L385.3,481.4 L385.8,480.9 L386.3,480.3 L386.8,479.6 L387.3,479.0 L387.8,478.3 L388.3,477.6 L388.8,476.8 L389.3,476.1 L389.8,475.3 L390.3,474.5 L390.8,473.6 L391.3,472.8 L391.8,471.9 L392.3,471.0 L392.8,470.1 L393.3,469.1 L393.8,468.1 L394.3,467.1 L394.8,466.0 L395.3,465.0 L395.8,463.9 L396.3,462.9 L396.8,461.8 L397.3,460.7 L397.8,459.6 L398.3,458.5 L398.8,457.3" fill="none" stroke="#ff0000" stroke-width="1.6" stroke-dasharray="1.2 0.75" stroke-linejoin="round"/>
<path d="M87.00,526.70v-4.4M87.00,320.60v4.4M106.52,526.70v-2.2M106.52,320.60v2.2M126.04,526.70v-2.2M126.04,320.60v2.2M145.56,526.70v-2.2M145.56,320.60v2.2M165.07,526.70v-2.2M165.07,320.60v2.2M184.59,526.70v-4.4M184.59,320.60v4.4M204.11,526.70v-2.2M204.11,320.60v2.2M223.63,526.70v-2.2M223.63,320.60v2.2M243.15,526.70v-2.2M243.15,320.60v2.2M262.67,526.70v-2.2M262.67,320.60v2.2M282.19,526.70v-4.4M282.19,320.60v4.4M301.71,526.70v-2.2M301.71,320.60v2.2M321.23,526.70v-2.2M321.23,320.60v2.2M340.74,526.70v-2.2M340.74,320.60v2.2M360.26,526.70v-2.2M360.26,320.60v2.2M379.78,526.70v-4.4M379.78,320.60v4.4M399.30,526.70v-2.2M399.30,320.60v2.2M87.00,526.70h4.4M399.30,526.70h-4.4M87.00,520.81h2.2M399.30,520.81h-2.2M87.00,514.92h2.2M399.30,514.92h-2.2M87.00,509.03h2.2M399.30,509.03h-2.2M87.00,503.15h2.2M399.30,503.15h-2.2M87.00,497.26h2.2M399.30,497.26h-2.2M87.00,491.37h2.2M399.30,491.37h-2.2M87.00,485.48h2.2M399.30,485.48h-2.2M87.00,479.59h2.2M399.30,479.59h-2.2M87.00,473.70h2.2M399.30,473.70h-2.2M87.00,467.81h4.4M399.30,467.81h-4.4M87.00,461.93h2.2M399.30,461.93h-2.2M87.00,456.04h2.2M399.30,456.04h-2.2M87.00,450.15h2.2M399.30,450.15h-2.2M87.00,444.26h2.2M399.30,444.26h-2.2M87.00,438.37h2.2M399.30,438.37h-2.2M87.00,432.48h2.2M399.30,432.48h-2.2M87.00,426.59h2.2M399.30,426.59h-2.2M87.00,420.71h2.2M399.30,420.71h-2.2M87.00,414.82h2.2M399.30,414.82h-2.2M87.00,408.93h4.4M399.30,408.93h-4.4M87.00,403.04h2.2M399.30,403.04h-2.2M87.00,397.15h2.2M399.30,397.15h-2.2M87.00,391.26h2.2M399.30,391.26h-2.2M87.00,385.37h2.2M399.30,385.37h-2.2M87.00,379.49h2.2M399.30,379.49h-2.2M87.00,373.60h2.2M399.30,373.60h-2.2M87.00,367.71h2.2M399.30,367.71h-2.2M87.00,361.82h2.2M399.30,361.82h-2.2M87.00,355.93h2.2M399.30,355.93h-2.2M87.00,350.04h4.4M399.30,350.04h-4.4M87.00,344.15h2.2M399.30,344.15h-2.2M87.00,338.27h2.2M399.30,338.27h-2.2M87.00,332.38h2.2M399.30,332.38h-2.2M87.00,326.49h2.2M399.30,326.49h-2.2M87.00,320.60h2.2M399.30,320.60h-2.2" stroke="#000" stroke-width="0.9" fill="none"/>
<rect x="87.00" y="320.60" width="312.30" height="206.10" fill="none" stroke="#000" stroke-width="1.5"/>
<text x="8.5" y="304.6" font-size="20.3">(b) W<tspan dy="5.2" font-size="16.4">2</tspan><tspan dy="-5.2">HfC</tspan><tspan dy="5.2" font-size="16.4">2</tspan><tspan dy="-5.2">O</tspan><tspan dy="5.2" font-size="16.4">2</tspan></text>
<text x="75.0" y="533.6" font-size="20.2" text-anchor="end">0</text>
<text x="75.0" y="474.7" font-size="20.2" text-anchor="end">10</text>
<text x="75.0" y="415.8" font-size="20.2" text-anchor="end">20</text>
<text x="75.0" y="356.9" font-size="20.2" text-anchor="end">30</text>
<text x="89.1" y="553.9" font-size="20" text-anchor="middle">0</text>
<text x="187.0" y="553.9" font-size="20" text-anchor="middle">0.5</text>
<text x="284.6" y="553.9" font-size="20" text-anchor="middle">1</text>
<text x="382.7" y="553.9" font-size="20" text-anchor="middle">1.5</text>
<text x="243" y="573.1" font-size="20.3" text-anchor="middle">Photon energy (eV)</text>
<text transform="translate(31.6,424.4) rotate(-90)" font-size="20" text-anchor="middle"><tspan font-size="22.5">ω</tspan> · Re[<tspan font-size="22.5">σ</tspan>(<tspan font-size="22.5">ω</tspan>)]</text>
<circle cx="163.9" cy="407.1" r="6.85" fill="none" stroke="#000" stroke-width="0.8"/>
<text transform="translate(163.9,411.6) scale(1.2,1)" font-size="13.2" stroke="#000" stroke-width="0.35" text-anchor="middle">1</text>
<path d="M163.5,420.5V433.7" stroke="#000" stroke-width="1.6" fill="none"/>
<path d="M163.5,439.7l-2.5,-7.4h5z" fill="#000"/>
<circle cx="213.8" cy="412.6" r="6.85" fill="none" stroke="#000" stroke-width="0.8"/>
<text transform="translate(213.8,417.1) scale(1.2,1)" font-size="13.2" stroke="#000" stroke-width="0.35" text-anchor="middle">2</text>
<path d="M213.4,426.3V440.1" stroke="#000" stroke-width="1.6" fill="none"/>
<path d="M213.4,446.1l-2.5,-7.4h5z" fill="#000"/>
<circle cx="277.3" cy="404.5" r="6.85" fill="none" stroke="#000" stroke-width="0.8"/>
<text transform="translate(277.3,409.0) scale(1.2,1)" font-size="13.2" stroke="#000" stroke-width="0.35" text-anchor="middle">3</text>
<path d="M276.9,414.8V428.0" stroke="#000" stroke-width="1.6" fill="none"/>
<path d="M276.9,434.0l-2.5,-7.4h5z" fill="#000"/>
<circle cx="351.3" cy="367.8" r="6.85" fill="none" stroke="#000" stroke-width="0.8"/>
<text transform="translate(351.3,372.3) scale(1.2,1)" font-size="13.2" stroke="#000" stroke-width="0.35" text-anchor="middle">4</text>
<path d="M350.9,380.3V393.2" stroke="#000" stroke-width="1.6" fill="none"/>
<path d="M350.9,399.2l-2.5,-7.4h5z" fill="#000"/>
</svg>
</body>
</html>
